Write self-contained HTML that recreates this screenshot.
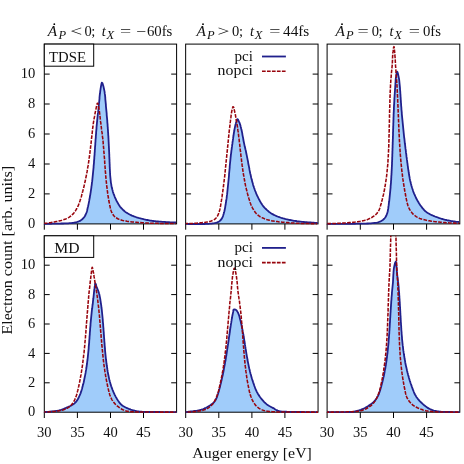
<!DOCTYPE html>
<html><head><meta charset="utf-8"><title>Auger spectra</title>
<style>
html,body{margin:0;padding:0;background:#fff;}
body{width:464px;height:464px;overflow:hidden;font-family:"Liberation Serif",serif;}
svg{display:block;will-change:transform;}
.t{font-family:"Liberation Serif",serif;font-size:14.5px;fill:#111;}
.i{font-family:"Liberation Serif",serif;font-size:14.5px;font-style:italic;fill:#111;}
.is{font-family:"Liberation Serif",serif;font-size:12.5px;font-style:italic;fill:#111;}
</style></head><body>
<svg width="464" height="464" viewBox="0 0 464 464">
<rect width="464" height="464" fill="#fff"/>
<defs>
<clipPath id="c00"><rect x="43.8" y="44.1" width="133.3" height="181.0"/></clipPath>
<clipPath id="c01"><rect x="185.15" y="44.1" width="133.4" height="181.0"/></clipPath>
<clipPath id="c02"><rect x="326.6" y="44.1" width="133.7" height="181.0"/></clipPath>
<clipPath id="c10"><rect x="43.8" y="235.8" width="133.3" height="177.59999999999997"/></clipPath>
<clipPath id="c11"><rect x="185.15" y="235.8" width="133.4" height="177.59999999999997"/></clipPath>
<clipPath id="c12"><rect x="326.6" y="235.8" width="133.7" height="177.59999999999997"/></clipPath>
</defs>
<path clip-path="url(#c00)" d="M44.3,223.8 L45.4,223.8 L46.4,223.8 L47.4,223.8 L48.3,223.8 L49.3,223.8 L50.3,223.8 L51.3,223.8 L52.3,223.7 L53.3,223.7 L54.3,223.7 L55.3,223.7 L56.3,223.7 L57.3,223.7 L58.3,223.6 L59.3,223.6 L60.3,223.6 L61.3,223.5 L62.3,223.5 L63.3,223.5 L64.3,223.4 L65.3,223.4 L66.3,223.4 L67.3,223.3 L68.3,223.3 L69.3,223.2 L70.3,223.2 L71.3,223.1 L72.3,223.0 L73.3,222.9 L74.3,222.7 L75.2,222.5 L76.2,222.3 L77.1,222.0 L78.1,221.7 L79.0,221.3 L79.9,220.9 L80.7,220.4 L81.5,219.8 L82.3,219.2 L83.0,218.5 L83.6,217.8 L84.3,217.0 L84.8,216.2 L85.3,215.3 L85.7,214.5 L86.1,213.5 L86.5,212.6 L86.8,211.7 L87.1,210.7 L87.3,209.7 L87.5,208.8 L87.7,207.8 L88.0,206.8 L88.2,205.8 L88.4,204.9 L88.6,203.9 L88.8,202.9 L89.0,201.9 L89.2,200.9 L89.3,200.0 L89.5,199.0 L89.7,198.0 L89.9,197.0 L90.0,196.0 L90.2,195.0 L90.4,194.1 L90.5,193.1 L90.7,192.1 L90.8,191.1 L91.0,190.1 L91.1,189.1 L91.3,188.1 L91.4,187.1 L91.5,186.1 L91.7,185.1 L91.8,184.2 L91.9,183.2 L92.0,182.2 L92.2,181.2 L92.3,180.2 L92.4,179.2 L92.5,178.2 L92.6,177.2 L92.7,176.2 L92.8,175.2 L92.9,174.2 L93.0,173.2 L93.1,172.2 L93.2,171.2 L93.3,170.2 L93.4,169.2 L93.5,168.2 L93.6,167.2 L93.6,166.3 L93.7,165.3 L93.8,164.3 L93.9,163.3 L94.0,162.3 L94.0,161.3 L94.1,160.3 L94.2,159.3 L94.3,158.3 L94.3,157.3 L94.4,156.3 L94.5,155.3 L94.6,154.3 L94.6,153.3 L94.7,152.3 L94.8,151.3 L94.8,150.3 L94.9,149.3 L95.0,148.3 L95.0,147.3 L95.1,146.3 L95.2,145.3 L95.3,144.3 L95.3,143.3 L95.4,142.3 L95.5,141.3 L95.5,140.3 L95.6,139.3 L95.7,138.3 L95.8,137.3 L95.8,136.3 L95.9,135.3 L96.0,134.3 L96.1,133.3 L96.1,132.3 L96.2,131.3 L96.3,130.4 L96.4,129.4 L96.5,128.4 L96.5,127.4 L96.6,126.4 L96.7,125.4 L96.8,124.4 L96.9,123.4 L97.0,122.4 L97.1,121.4 L97.2,120.4 L97.3,119.4 L97.4,118.4 L97.5,117.4 L97.6,116.4 L97.7,115.4 L97.8,114.4 L97.9,113.4 L98.1,112.4 L98.2,111.4 L98.3,110.5 L98.4,109.5 L98.5,108.5 L98.6,107.5 L98.7,106.5 L98.8,105.5 L98.9,104.5 L99.0,103.5 L99.1,102.5 L99.2,101.5 L99.3,100.5 L99.4,99.5 L99.5,98.5 L99.5,97.5 L99.6,96.5 L99.7,95.5 L99.8,94.5 L100.0,93.5 L100.1,92.5 L100.2,91.6 L100.3,90.6 L100.5,89.6 L100.6,88.6 L100.8,87.6 L100.9,86.7 L101.1,85.8 L101.3,84.8 L101.5,83.8 L101.8,82.7 L102.5,83.3 L102.8,84.3 L103.1,85.3 L103.3,86.1 L103.6,87.1 L103.8,88.0 L104.0,89.0 L104.2,89.9 L104.4,90.9 L104.6,91.9 L104.7,92.9 L104.8,93.9 L105.0,94.9 L105.1,95.9 L105.2,96.9 L105.3,97.9 L105.3,98.9 L105.4,99.8 L105.5,100.8 L105.6,101.8 L105.7,102.8 L105.8,103.8 L105.9,104.8 L105.9,105.8 L106.0,106.8 L106.1,107.8 L106.2,108.8 L106.3,109.8 L106.4,110.8 L106.5,111.8 L106.6,112.8 L106.7,113.8 L106.7,114.8 L106.8,115.8 L106.9,116.8 L107.0,117.8 L107.1,118.8 L107.2,119.8 L107.3,120.8 L107.3,121.8 L107.4,122.8 L107.5,123.8 L107.6,124.8 L107.6,125.8 L107.7,126.8 L107.8,127.7 L107.8,128.7 L107.9,129.7 L108.0,130.7 L108.0,131.7 L108.1,132.7 L108.2,133.7 L108.2,134.7 L108.3,135.7 L108.4,136.7 L108.4,137.7 L108.5,138.7 L108.5,139.7 L108.6,140.7 L108.6,141.7 L108.7,142.7 L108.7,143.7 L108.8,144.7 L108.8,145.7 L108.9,146.7 L108.9,147.7 L109.0,148.7 L109.0,149.7 L109.1,150.7 L109.1,151.7 L109.2,152.7 L109.2,153.7 L109.3,154.7 L109.3,155.7 L109.3,156.7 L109.4,157.7 L109.4,158.7 L109.5,159.7 L109.5,160.7 L109.5,161.7 L109.6,162.7 L109.6,163.7 L109.7,164.7 L109.7,165.7 L109.7,166.7 L109.8,167.7 L109.8,168.7 L109.9,169.7 L109.9,170.7 L110.0,171.7 L110.0,172.7 L110.1,173.7 L110.1,174.7 L110.2,175.7 L110.3,176.7 L110.4,177.7 L110.5,178.7 L110.6,179.7 L110.7,180.7 L110.8,181.7 L110.9,182.6 L111.1,183.6 L111.3,184.6 L111.4,185.6 L111.6,186.6 L111.8,187.6 L112.1,188.5 L112.3,189.5 L112.6,190.5 L112.8,191.4 L113.1,192.4 L113.4,193.3 L113.8,194.3 L114.1,195.2 L114.5,196.1 L114.8,197.1 L115.2,198.0 L115.7,198.9 L116.1,199.8 L116.5,200.7 L117.0,201.6 L117.5,202.5 L118.0,203.3 L118.5,204.2 L119.0,205.0 L119.6,205.9 L120.1,206.7 L120.7,207.5 L121.4,208.2 L122.1,208.9 L122.8,209.6 L123.5,210.3 L124.3,211.0 L125.0,211.6 L125.8,212.2 L126.7,212.7 L127.5,213.3 L128.4,213.8 L129.2,214.3 L130.1,214.7 L131.0,215.1 L131.9,215.6 L132.8,215.9 L133.8,216.3 L134.7,216.7 L135.7,217.0 L136.6,217.3 L137.6,217.6 L138.5,217.9 L139.5,218.2 L140.4,218.4 L141.4,218.7 L142.4,218.9 L143.4,219.1 L144.3,219.4 L145.3,219.6 L146.3,219.8 L147.3,220.0 L148.2,220.2 L149.2,220.4 L150.2,220.6 L151.2,220.7 L152.2,220.9 L153.2,221.0 L154.2,221.1 L155.2,221.2 L156.1,221.3 L157.1,221.4 L158.1,221.5 L159.1,221.6 L160.1,221.7 L161.1,221.7 L162.1,221.8 L163.1,221.9 L164.1,221.9 L165.1,222.0 L166.1,222.1 L167.1,222.1 L168.1,222.2 L169.1,222.2 L170.1,222.3 L171.1,222.3 L172.1,222.3 L173.1,222.4 L174.0,222.4 L175.0,222.4 L176.1,222.4 L176.6,223.9 L44.3,223.9 Z" fill="#a0ccfa"/>
<path clip-path="url(#c01)" d="M185.7,223.9 L186.7,223.9 L187.7,223.9 L188.7,224.0 L189.7,224.0 L190.7,224.0 L191.7,224.0 L192.7,224.0 L193.6,224.0 L194.6,224.0 L195.6,224.0 L196.6,224.0 L197.6,224.0 L198.6,224.0 L199.6,224.0 L200.6,224.0 L201.6,224.0 L202.6,224.0 L203.6,224.0 L204.6,224.0 L205.6,223.9 L206.6,223.9 L207.6,223.8 L208.6,223.8 L209.6,223.7 L210.6,223.6 L211.6,223.6 L212.6,223.4 L213.6,223.3 L214.6,223.1 L215.6,222.9 L216.5,222.6 L217.4,222.3 L218.3,221.9 L219.1,221.4 L219.9,220.8 L220.6,220.2 L221.2,219.4 L221.8,218.6 L222.2,217.8 L222.7,216.9 L223.0,216.0 L223.3,215.0 L223.6,214.1 L223.9,213.1 L224.1,212.2 L224.4,211.2 L224.6,210.2 L224.8,209.2 L225.0,208.2 L225.2,207.3 L225.3,206.3 L225.5,205.3 L225.7,204.3 L225.8,203.3 L226.0,202.3 L226.1,201.3 L226.3,200.3 L226.4,199.4 L226.6,198.4 L226.7,197.4 L226.8,196.4 L226.9,195.4 L227.1,194.4 L227.2,193.4 L227.3,192.4 L227.4,191.4 L227.5,190.4 L227.6,189.4 L227.7,188.4 L227.8,187.4 L227.9,186.5 L228.0,185.5 L228.1,184.5 L228.2,183.5 L228.3,182.5 L228.4,181.5 L228.5,180.5 L228.6,179.5 L228.7,178.5 L228.8,177.5 L228.9,176.5 L229.0,175.5 L229.0,174.5 L229.1,173.5 L229.2,172.5 L229.3,171.5 L229.4,170.5 L229.5,169.5 L229.6,168.5 L229.7,167.5 L229.7,166.5 L229.8,165.5 L229.9,164.5 L230.0,163.5 L230.1,162.5 L230.2,161.6 L230.3,160.6 L230.4,159.6 L230.5,158.6 L230.6,157.6 L230.7,156.6 L230.8,155.6 L230.9,154.6 L231.1,153.6 L231.2,152.6 L231.3,151.6 L231.4,150.6 L231.6,149.6 L231.7,148.6 L231.8,147.6 L232.0,146.7 L232.1,145.7 L232.2,144.7 L232.4,143.7 L232.5,142.7 L232.6,141.7 L232.8,140.7 L232.9,139.7 L233.1,138.7 L233.2,137.7 L233.3,136.8 L233.5,135.8 L233.6,134.8 L233.8,133.8 L233.9,132.8 L234.1,131.8 L234.3,130.8 L234.4,129.8 L234.6,128.9 L234.8,127.9 L235.0,126.9 L235.2,125.9 L235.4,125.0 L235.7,124.0 L235.9,123.1 L236.2,122.2 L236.5,121.3 L236.8,120.3 L237.2,119.2 L237.9,119.4 L238.4,120.4 L238.8,121.3 L239.2,122.2 L239.6,123.0 L239.9,123.9 L240.2,124.9 L240.5,125.8 L240.7,126.8 L241.0,127.7 L241.2,128.7 L241.5,129.7 L241.7,130.7 L241.9,131.6 L242.1,132.6 L242.3,133.6 L242.4,134.6 L242.6,135.6 L242.8,136.6 L243.0,137.5 L243.2,138.5 L243.3,139.5 L243.5,140.5 L243.7,141.5 L243.9,142.5 L244.1,143.4 L244.3,144.4 L244.5,145.4 L244.7,146.4 L245.0,147.3 L245.2,148.3 L245.4,149.3 L245.7,150.3 L245.9,151.2 L246.1,152.2 L246.3,153.2 L246.5,154.2 L246.7,155.1 L246.9,156.1 L247.1,157.1 L247.3,158.1 L247.5,159.1 L247.7,160.1 L247.9,161.0 L248.1,162.0 L248.2,163.0 L248.4,164.0 L248.6,165.0 L248.8,165.9 L249.0,166.9 L249.2,167.9 L249.4,168.9 L249.5,169.9 L249.7,170.9 L249.9,171.8 L250.1,172.8 L250.3,173.8 L250.6,174.8 L250.8,175.7 L251.0,176.7 L251.2,177.7 L251.5,178.7 L251.7,179.6 L252.0,180.6 L252.2,181.6 L252.5,182.5 L252.8,183.5 L253.0,184.5 L253.3,185.4 L253.6,186.4 L253.9,187.3 L254.3,188.3 L254.6,189.2 L254.9,190.1 L255.3,191.1 L255.7,192.0 L256.0,192.9 L256.4,193.9 L256.8,194.8 L257.2,195.7 L257.7,196.6 L258.1,197.5 L258.5,198.4 L259.0,199.3 L259.5,200.2 L259.9,201.0 L260.4,201.9 L260.9,202.8 L261.5,203.6 L262.0,204.4 L262.6,205.3 L263.2,206.1 L263.8,206.8 L264.5,207.6 L265.2,208.3 L265.9,209.0 L266.6,209.7 L267.3,210.4 L268.1,211.0 L268.8,211.7 L269.6,212.3 L270.4,212.8 L271.3,213.4 L272.1,213.9 L273.0,214.4 L273.9,214.9 L274.8,215.3 L275.7,215.7 L276.6,216.1 L277.5,216.5 L278.5,216.8 L279.4,217.1 L280.4,217.5 L281.3,217.8 L282.3,218.1 L283.2,218.4 L284.2,218.6 L285.1,218.9 L286.1,219.2 L287.1,219.4 L288.1,219.6 L289.0,219.8 L290.0,220.0 L291.0,220.2 L292.0,220.4 L293.0,220.6 L293.9,220.8 L294.9,220.9 L295.9,221.0 L296.9,221.2 L297.9,221.3 L298.9,221.4 L299.9,221.6 L300.9,221.7 L301.9,221.8 L302.9,221.9 L303.9,222.0 L304.9,222.1 L305.9,222.2 L306.9,222.2 L307.8,222.3 L308.8,222.4 L309.8,222.5 L310.8,222.5 L311.8,222.6 L312.8,222.7 L313.8,222.7 L314.8,222.8 L315.7,222.8 L316.8,222.9 L317.8,222.9 L318.05,223.9 L185.65,223.9 Z" fill="#a0ccfa"/>
<path clip-path="url(#c02)" d="M327.1,223.9 L328.2,223.9 L329.2,223.9 L330.2,223.9 L331.1,223.9 L332.1,223.9 L333.1,223.9 L334.1,223.9 L335.1,223.9 L336.1,223.9 L337.1,223.9 L338.1,223.9 L339.1,223.9 L340.1,223.9 L341.1,223.9 L342.1,223.9 L343.1,223.9 L344.1,223.8 L345.1,223.8 L346.1,223.8 L347.1,223.8 L348.1,223.8 L349.1,223.8 L350.1,223.8 L351.1,223.8 L352.1,223.8 L353.1,223.8 L354.1,223.8 L355.1,223.8 L356.1,223.7 L357.1,223.7 L358.1,223.7 L359.1,223.7 L360.1,223.7 L361.1,223.7 L362.1,223.7 L363.1,223.7 L364.1,223.6 L365.1,223.6 L366.1,223.6 L367.1,223.5 L368.1,223.5 L369.1,223.4 L370.1,223.4 L371.1,223.3 L372.1,223.2 L373.1,223.1 L374.1,223.0 L375.1,222.9 L376.0,222.8 L377.0,222.6 L378.0,222.3 L378.9,222.0 L379.9,221.7 L380.8,221.3 L381.6,220.8 L382.4,220.3 L383.2,219.7 L383.9,219.0 L384.6,218.3 L385.2,217.5 L385.7,216.7 L386.2,215.8 L386.6,214.9 L386.9,214.0 L387.3,213.1 L387.5,212.1 L387.8,211.2 L387.9,210.2 L388.1,209.2 L388.3,208.2 L388.4,207.2 L388.5,206.2 L388.7,205.2 L388.8,204.2 L388.9,203.2 L389.0,202.3 L389.2,201.3 L389.3,200.3 L389.4,199.3 L389.5,198.3 L389.6,197.3 L389.7,196.3 L389.8,195.3 L389.9,194.3 L390.0,193.3 L390.1,192.3 L390.2,191.3 L390.3,190.3 L390.4,189.3 L390.5,188.3 L390.6,187.3 L390.6,186.3 L390.7,185.3 L390.8,184.3 L390.9,183.3 L391.0,182.4 L391.0,181.4 L391.1,180.4 L391.2,179.4 L391.2,178.4 L391.3,177.4 L391.3,176.4 L391.4,175.4 L391.5,174.4 L391.5,173.4 L391.6,172.4 L391.6,171.4 L391.7,170.4 L391.7,169.4 L391.8,168.4 L391.8,167.4 L391.9,166.4 L391.9,165.4 L392.0,164.4 L392.0,163.4 L392.0,162.4 L392.1,161.4 L392.1,160.4 L392.2,159.4 L392.2,158.4 L392.2,157.4 L392.3,156.4 L392.3,155.4 L392.3,154.4 L392.4,153.4 L392.4,152.4 L392.4,151.4 L392.5,150.4 L392.5,149.4 L392.5,148.4 L392.6,147.4 L392.6,146.4 L392.6,145.4 L392.7,144.4 L392.7,143.4 L392.7,142.4 L392.8,141.4 L392.8,140.4 L392.8,139.4 L392.9,138.4 L392.9,137.4 L392.9,136.4 L393.0,135.4 L393.0,134.4 L393.0,133.4 L393.0,132.4 L393.1,131.4 L393.1,130.4 L393.1,129.4 L393.2,128.4 L393.2,127.4 L393.2,126.4 L393.3,125.4 L393.3,124.4 L393.3,123.4 L393.4,122.4 L393.4,121.4 L393.4,120.4 L393.5,119.4 L393.5,118.4 L393.5,117.4 L393.6,116.4 L393.6,115.4 L393.6,114.4 L393.7,113.4 L393.7,112.4 L393.8,111.4 L393.8,110.4 L393.9,109.4 L393.9,108.4 L393.9,107.4 L394.0,106.4 L394.0,105.4 L394.1,104.4 L394.2,103.4 L394.2,102.4 L394.3,101.4 L394.3,100.4 L394.4,99.4 L394.4,98.4 L394.5,97.4 L394.6,96.4 L394.6,95.4 L394.7,94.4 L394.8,93.4 L394.8,92.4 L394.9,91.4 L395.0,90.4 L395.0,89.4 L395.1,88.5 L395.2,87.5 L395.2,86.5 L395.3,85.5 L395.4,84.5 L395.4,83.5 L395.5,82.5 L395.6,81.5 L395.6,80.5 L395.7,79.5 L395.8,78.5 L396.0,77.5 L396.1,76.5 L396.2,75.6 L396.4,74.7 L396.5,73.7 L396.7,72.6 L397.0,71.6 L397.6,72.4 L397.9,73.4 L398.1,74.3 L398.3,75.2 L398.5,76.1 L398.7,77.1 L398.9,78.1 L399.1,79.1 L399.2,80.0 L399.3,81.0 L399.4,82.0 L399.5,83.0 L399.6,84.0 L399.7,85.0 L399.8,86.0 L399.9,87.0 L400.0,88.0 L400.0,89.0 L400.1,90.0 L400.2,91.0 L400.3,92.0 L400.3,93.0 L400.4,94.0 L400.5,95.0 L400.5,96.0 L400.6,97.0 L400.7,98.0 L400.7,99.0 L400.8,100.0 L400.9,101.0 L400.9,102.0 L401.0,103.0 L401.1,104.0 L401.1,105.0 L401.2,106.0 L401.3,107.0 L401.4,108.0 L401.4,109.0 L401.5,110.0 L401.6,110.9 L401.7,111.9 L401.8,112.9 L401.8,113.9 L401.9,114.9 L402.0,115.9 L402.1,116.9 L402.2,117.9 L402.3,118.9 L402.4,119.9 L402.5,120.9 L402.6,121.9 L402.7,122.9 L402.8,123.9 L402.9,124.9 L403.0,125.9 L403.1,126.9 L403.2,127.9 L403.3,128.9 L403.4,129.9 L403.5,130.9 L403.6,131.9 L403.7,132.8 L403.8,133.8 L403.9,134.8 L404.0,135.8 L404.1,136.8 L404.2,137.8 L404.4,138.8 L404.5,139.8 L404.6,140.8 L404.7,141.8 L404.8,142.8 L404.9,143.8 L405.1,144.8 L405.2,145.8 L405.3,146.8 L405.4,147.7 L405.5,148.7 L405.7,149.7 L405.8,150.7 L405.9,151.7 L406.0,152.7 L406.2,153.7 L406.3,154.7 L406.4,155.7 L406.5,156.7 L406.7,157.7 L406.8,158.7 L406.9,159.7 L407.1,160.6 L407.2,161.6 L407.3,162.6 L407.5,163.6 L407.6,164.6 L407.7,165.6 L407.9,166.6 L408.0,167.6 L408.1,168.6 L408.3,169.6 L408.4,170.5 L408.6,171.5 L408.7,172.5 L408.9,173.5 L409.0,174.5 L409.2,175.5 L409.4,176.5 L409.6,177.5 L409.7,178.4 L409.9,179.4 L410.1,180.4 L410.4,181.4 L410.6,182.3 L410.8,183.3 L411.1,184.3 L411.3,185.3 L411.6,186.2 L411.9,187.2 L412.2,188.1 L412.5,189.1 L412.8,190.0 L413.1,191.0 L413.4,191.9 L413.8,192.8 L414.2,193.8 L414.6,194.7 L415.0,195.6 L415.4,196.5 L415.8,197.4 L416.2,198.3 L416.7,199.2 L417.2,200.1 L417.6,201.0 L418.2,201.8 L418.7,202.7 L419.2,203.5 L419.8,204.4 L420.3,205.2 L420.9,206.0 L421.5,206.8 L422.1,207.6 L422.7,208.4 L423.4,209.1 L424.0,209.9 L424.7,210.6 L425.4,211.3 L426.2,211.9 L427.0,212.5 L427.8,213.0 L428.7,213.5 L429.6,214.0 L430.4,214.5 L431.3,214.9 L432.3,215.3 L433.2,215.7 L434.1,216.1 L435.0,216.5 L436.0,216.8 L436.9,217.2 L437.8,217.5 L438.8,217.9 L439.7,218.2 L440.7,218.5 L441.6,218.8 L442.6,219.0 L443.6,219.3 L444.5,219.6 L445.5,219.8 L446.5,220.0 L447.4,220.3 L448.4,220.5 L449.4,220.7 L450.4,220.9 L451.4,221.1 L452.3,221.2 L453.3,221.4 L454.3,221.5 L455.3,221.6 L456.3,221.8 L457.2,221.8 L458.2,221.9 L459.2,222.0 L459.8,223.9 L327.1,223.9 Z" fill="#a0ccfa"/>
<path clip-path="url(#c10)" d="M44.3,412.1 L45.4,412.0 L46.4,411.9 L47.3,411.8 L48.3,411.8 L49.3,411.7 L50.3,411.6 L51.3,411.5 L52.3,411.4 L53.3,411.3 L54.3,411.2 L55.2,411.1 L56.2,410.9 L57.2,410.8 L58.2,410.6 L59.2,410.4 L60.1,410.1 L61.1,409.8 L62.0,409.5 L63.0,409.2 L63.9,408.8 L64.8,408.4 L65.7,408.0 L66.6,407.6 L67.6,407.2 L68.5,406.8 L69.4,406.4 L70.3,406.0 L71.2,405.5 L72.0,405.0 L72.9,404.5 L73.7,404.0 L74.5,403.4 L75.2,402.7 L75.9,402.0 L76.5,401.2 L77.1,400.4 L77.6,399.6 L78.1,398.7 L78.6,397.8 L79.0,396.9 L79.4,396.0 L79.8,395.1 L80.2,394.2 L80.6,393.3 L80.9,392.3 L81.2,391.4 L81.5,390.4 L81.8,389.5 L82.1,388.5 L82.3,387.5 L82.6,386.6 L82.8,385.6 L83.1,384.6 L83.3,383.7 L83.6,382.7 L83.8,381.7 L84.0,380.7 L84.2,379.8 L84.4,378.8 L84.6,377.8 L84.8,376.8 L85.0,375.9 L85.2,374.9 L85.4,373.9 L85.6,372.9 L85.7,371.9 L85.9,370.9 L86.1,369.9 L86.2,369.0 L86.4,368.0 L86.5,367.0 L86.7,366.0 L86.8,365.0 L87.0,364.0 L87.1,363.0 L87.2,362.0 L87.3,361.0 L87.5,360.0 L87.6,359.0 L87.7,358.1 L87.8,357.1 L87.9,356.1 L88.0,355.1 L88.1,354.1 L88.2,353.1 L88.3,352.1 L88.4,351.1 L88.5,350.1 L88.6,349.1 L88.7,348.1 L88.7,347.1 L88.8,346.1 L88.9,345.1 L89.0,344.1 L89.1,343.1 L89.2,342.1 L89.2,341.1 L89.3,340.1 L89.4,339.1 L89.5,338.1 L89.5,337.1 L89.6,336.1 L89.7,335.1 L89.8,334.1 L89.8,333.2 L89.9,332.2 L90.0,331.2 L90.1,330.2 L90.1,329.2 L90.2,328.2 L90.3,327.2 L90.4,326.2 L90.5,325.2 L90.5,324.2 L90.6,323.2 L90.7,322.2 L90.8,321.2 L90.9,320.2 L91.0,319.2 L91.1,318.2 L91.2,317.2 L91.3,316.2 L91.4,315.2 L91.5,314.2 L91.6,313.2 L91.7,312.2 L91.8,311.2 L91.9,310.2 L92.0,309.3 L92.2,308.3 L92.3,307.3 L92.4,306.3 L92.5,305.3 L92.7,304.3 L92.8,303.3 L92.9,302.3 L93.0,301.3 L93.1,300.3 L93.2,299.3 L93.4,298.3 L93.5,297.3 L93.6,296.3 L93.7,295.4 L93.8,294.4 L93.9,293.4 L94.0,292.4 L94.1,291.4 L94.2,290.4 L94.3,289.4 L94.5,288.4 L94.6,287.5 L94.7,286.6 L94.9,285.7 L95.0,284.6 L95.2,283.5 L95.8,283.9 L96.1,285.0 L96.3,286.0 L96.6,286.9 L96.9,287.7 L97.3,288.6 L97.7,289.5 L98.1,290.5 L98.4,291.4 L98.7,292.3 L99.0,293.3 L99.3,294.2 L99.5,295.2 L99.7,296.2 L99.9,297.1 L100.1,298.1 L100.3,299.1 L100.4,300.1 L100.6,301.1 L100.7,302.1 L100.9,303.1 L101.0,304.1 L101.2,305.1 L101.3,306.0 L101.4,307.0 L101.5,308.0 L101.7,309.0 L101.8,310.0 L101.9,311.0 L102.0,312.0 L102.1,313.0 L102.2,314.0 L102.3,315.0 L102.4,316.0 L102.5,317.0 L102.6,318.0 L102.7,319.0 L102.8,320.0 L102.8,321.0 L102.9,322.0 L103.0,323.0 L103.1,323.9 L103.2,324.9 L103.2,325.9 L103.3,326.9 L103.4,327.9 L103.5,328.9 L103.5,329.9 L103.6,330.9 L103.7,331.9 L103.8,332.9 L103.8,333.9 L103.9,334.9 L104.0,335.9 L104.0,336.9 L104.1,337.9 L104.2,338.9 L104.3,339.9 L104.3,340.9 L104.4,341.9 L104.5,342.9 L104.6,343.9 L104.6,344.9 L104.7,345.9 L104.8,346.9 L104.9,347.9 L105.0,348.9 L105.0,349.9 L105.1,350.9 L105.2,351.9 L105.3,352.9 L105.4,353.9 L105.5,354.9 L105.6,355.8 L105.7,356.8 L105.8,357.8 L105.9,358.8 L106.0,359.8 L106.2,360.8 L106.3,361.8 L106.4,362.8 L106.5,363.8 L106.7,364.8 L106.8,365.8 L107.0,366.8 L107.1,367.8 L107.3,368.7 L107.4,369.7 L107.6,370.7 L107.7,371.7 L107.9,372.7 L108.1,373.7 L108.3,374.7 L108.5,375.6 L108.7,376.6 L108.9,377.6 L109.1,378.6 L109.3,379.5 L109.6,380.5 L109.8,381.5 L110.1,382.4 L110.4,383.4 L110.6,384.4 L110.9,385.3 L111.2,386.3 L111.6,387.2 L111.9,388.2 L112.3,389.1 L112.6,390.0 L113.0,390.9 L113.4,391.9 L113.8,392.8 L114.2,393.7 L114.6,394.6 L115.1,395.5 L115.5,396.4 L116.0,397.3 L116.5,398.1 L117.0,399.0 L117.5,399.8 L118.1,400.7 L118.7,401.5 L119.2,402.3 L119.9,403.1 L120.5,403.8 L121.2,404.5 L121.9,405.2 L122.7,405.8 L123.5,406.3 L124.4,406.8 L125.3,407.3 L126.2,407.7 L127.1,408.1 L128.0,408.5 L128.9,408.9 L129.8,409.2 L130.8,409.6 L131.7,409.9 L132.7,410.2 L133.6,410.5 L134.6,410.7 L135.6,411.0 L136.5,411.1 L137.5,411.3 L138.5,411.4 L139.5,411.6 L140.5,411.7 L141.5,411.7 L142.5,411.8 L143.5,411.8 L144.5,411.9 L145.5,411.9 L146.5,411.9 L147.5,411.9 L148.5,411.9 L149.5,412.0 L150.5,412.0 L151.5,412.0 L152.5,412.0 L153.5,412.0 L154.5,412.0 L155.5,412.0 L156.5,412.0 L157.5,412.0 L158.5,412.0 L159.5,412.0 L160.5,412.1 L161.5,412.1 L162.5,412.1 L163.5,412.1 L164.5,412.1 L165.5,412.1 L166.5,412.1 L167.5,412.1 L168.5,412.1 L169.5,412.1 L170.5,412.1 L171.5,412.1 L172.5,412.1 L173.4,412.1 L174.4,412.1 L175.4,412.1 L176.5,412.1 L176.6,412.2 L44.3,412.2 Z" fill="#a0ccfa"/>
<path clip-path="url(#c11)" d="M185.7,412.1 L186.7,412.0 L187.7,411.8 L188.7,411.7 L189.7,411.6 L190.6,411.5 L191.6,411.4 L192.6,411.3 L193.6,411.1 L194.6,411.0 L195.6,410.9 L196.6,410.8 L197.5,410.6 L198.5,410.4 L199.5,410.2 L200.5,409.9 L201.4,409.7 L202.4,409.3 L203.3,409.0 L204.2,408.6 L205.1,408.1 L206.0,407.7 L206.9,407.2 L207.7,406.7 L208.6,406.2 L209.4,405.7 L210.3,405.2 L211.1,404.6 L211.9,404.1 L212.7,403.5 L213.4,402.8 L214.1,402.1 L214.7,401.3 L215.3,400.5 L215.7,399.7 L216.2,398.8 L216.6,397.9 L217.0,396.9 L217.3,396.0 L217.6,395.1 L217.9,394.1 L218.2,393.2 L218.5,392.2 L218.8,391.2 L219.0,390.3 L219.3,389.3 L219.6,388.3 L219.8,387.4 L220.1,386.4 L220.3,385.4 L220.5,384.5 L220.8,383.5 L221.0,382.5 L221.2,381.5 L221.5,380.6 L221.7,379.6 L221.9,378.6 L222.1,377.6 L222.3,376.7 L222.6,375.7 L222.8,374.7 L223.0,373.7 L223.2,372.8 L223.4,371.8 L223.6,370.8 L223.8,369.8 L223.9,368.8 L224.1,367.8 L224.3,366.9 L224.5,365.9 L224.7,364.9 L224.9,363.9 L225.0,362.9 L225.2,361.9 L225.4,361.0 L225.6,360.0 L225.7,359.0 L225.9,358.0 L226.0,357.0 L226.2,356.0 L226.4,355.0 L226.5,354.1 L226.7,353.1 L226.8,352.1 L227.0,351.1 L227.1,350.1 L227.3,349.1 L227.4,348.1 L227.6,347.1 L227.7,346.1 L227.9,345.2 L228.0,344.2 L228.2,343.2 L228.3,342.2 L228.5,341.2 L228.6,340.2 L228.8,339.2 L228.9,338.2 L229.0,337.2 L229.2,336.3 L229.3,335.3 L229.5,334.3 L229.6,333.3 L229.8,332.3 L229.9,331.3 L230.0,330.3 L230.2,329.3 L230.3,328.3 L230.5,327.3 L230.6,326.4 L230.8,325.4 L230.9,324.4 L231.1,323.4 L231.3,322.4 L231.4,321.4 L231.6,320.4 L231.7,319.4 L231.9,318.5 L232.1,317.5 L232.2,316.5 L232.4,315.5 L232.6,314.5 L232.8,313.6 L233.0,312.6 L233.2,311.7 L233.3,310.7 L233.5,309.6 L234.4,309.4 L235.4,309.6 L236.2,310.0 L236.8,310.7 L237.3,311.4 L237.7,312.2 L238.2,313.0 L238.5,313.9 L238.9,314.9 L239.2,315.8 L239.5,316.8 L239.7,317.7 L240.0,318.7 L240.2,319.7 L240.5,320.6 L240.7,321.6 L240.9,322.6 L241.1,323.6 L241.4,324.5 L241.6,325.5 L241.8,326.5 L242.0,327.5 L242.2,328.5 L242.4,329.4 L242.6,330.4 L242.7,331.4 L242.9,332.4 L243.1,333.4 L243.3,334.3 L243.5,335.3 L243.6,336.3 L243.8,337.3 L244.0,338.3 L244.1,339.3 L244.3,340.3 L244.4,341.3 L244.6,342.2 L244.8,343.2 L244.9,344.2 L245.1,345.2 L245.2,346.2 L245.4,347.2 L245.5,348.2 L245.7,349.2 L245.9,350.1 L246.0,351.1 L246.2,352.1 L246.3,353.1 L246.5,354.1 L246.7,355.1 L246.8,356.1 L247.0,357.0 L247.2,358.0 L247.4,359.0 L247.5,360.0 L247.7,361.0 L247.9,362.0 L248.1,362.9 L248.3,363.9 L248.5,364.9 L248.7,365.9 L248.9,366.9 L249.1,367.8 L249.3,368.8 L249.6,369.8 L249.8,370.8 L250.0,371.7 L250.3,372.7 L250.5,373.7 L250.8,374.6 L251.1,375.6 L251.3,376.6 L251.6,377.5 L251.9,378.5 L252.2,379.4 L252.5,380.4 L252.8,381.3 L253.1,382.3 L253.4,383.2 L253.8,384.2 L254.1,385.1 L254.4,386.1 L254.8,387.0 L255.1,387.9 L255.5,388.9 L255.9,389.8 L256.3,390.7 L256.7,391.6 L257.2,392.5 L257.7,393.4 L258.2,394.2 L258.7,395.1 L259.3,395.9 L259.8,396.7 L260.4,397.5 L261.0,398.3 L261.7,399.1 L262.3,399.8 L263.0,400.6 L263.6,401.3 L264.3,402.1 L265.0,402.8 L265.7,403.4 L266.5,404.1 L267.3,404.7 L268.1,405.3 L268.9,405.8 L269.8,406.3 L270.7,406.7 L271.5,407.2 L272.4,407.6 L273.3,408.1 L274.1,408.6 L275.0,409.2 L275.8,409.7 L276.7,410.1 L277.6,410.6 L278.5,410.9 L279.4,411.2 L280.4,411.3 L281.3,411.5 L282.3,411.6 L283.3,411.6 L284.3,411.7 L285.3,411.7 L286.3,411.7 L287.3,411.8 L288.3,411.8 L289.3,411.8 L290.3,411.8 L291.3,411.9 L292.3,411.9 L293.3,411.9 L294.3,411.9 L295.3,411.9 L296.3,412.0 L297.3,412.0 L298.3,412.0 L299.3,412.0 L300.3,412.0 L301.3,412.0 L302.3,412.0 L303.3,412.0 L304.3,412.1 L305.3,412.1 L306.3,412.1 L307.3,412.1 L308.3,412.1 L309.3,412.1 L310.3,412.1 L311.3,412.1 L312.3,412.1 L313.3,412.1 L314.3,412.1 L315.2,412.1 L316.2,412.1 L317.3,412.1 L318.05,412.2 L185.65,412.2 Z" fill="#a0ccfa"/>
<path clip-path="url(#c12)" d="M327.1,412.1 L328.2,412.1 L329.2,412.1 L330.2,412.1 L331.1,412.1 L332.1,412.1 L333.1,412.1 L334.1,412.1 L335.1,412.1 L336.1,412.1 L337.1,412.1 L338.1,412.1 L339.1,412.1 L340.1,412.1 L341.1,412.1 L342.1,412.1 L343.1,412.1 L344.1,412.1 L345.1,412.1 L346.1,412.1 L347.1,412.1 L348.1,412.1 L349.1,412.0 L350.1,412.0 L351.1,412.0 L352.1,411.9 L353.1,411.8 L354.0,411.7 L355.0,411.5 L356.0,411.2 L357.0,411.0 L357.9,410.7 L358.9,410.4 L359.8,410.1 L360.8,409.8 L361.7,409.4 L362.6,409.0 L363.5,408.6 L364.4,408.2 L365.3,407.7 L366.1,407.2 L367.0,406.7 L367.9,406.2 L368.7,405.6 L369.6,405.1 L370.4,404.6 L371.2,404.0 L372.0,403.4 L372.8,402.8 L373.5,402.1 L374.2,401.4 L374.9,400.7 L375.5,399.9 L376.1,399.1 L376.6,398.3 L377.1,397.4 L377.6,396.5 L378.1,395.7 L378.5,394.8 L378.9,393.8 L379.2,392.9 L379.6,392.0 L379.9,391.0 L380.2,390.1 L380.5,389.1 L380.7,388.2 L381.0,387.2 L381.3,386.2 L381.5,385.3 L381.8,384.3 L382.0,383.3 L382.3,382.4 L382.5,381.4 L382.8,380.4 L383.0,379.4 L383.2,378.5 L383.4,377.5 L383.7,376.5 L383.9,375.5 L384.1,374.6 L384.3,373.6 L384.5,372.6 L384.6,371.6 L384.8,370.6 L385.0,369.6 L385.2,368.7 L385.4,367.7 L385.5,366.7 L385.7,365.7 L385.9,364.7 L386.0,363.7 L386.2,362.7 L386.3,361.8 L386.5,360.8 L386.6,359.8 L386.7,358.8 L386.9,357.8 L387.0,356.8 L387.1,355.8 L387.2,354.8 L387.4,353.8 L387.5,352.8 L387.6,351.8 L387.7,350.8 L387.8,349.9 L387.9,348.9 L388.0,347.9 L388.1,346.9 L388.2,345.9 L388.3,344.9 L388.4,343.9 L388.5,342.9 L388.6,341.9 L388.6,340.9 L388.7,339.9 L388.8,338.9 L388.9,337.9 L389.0,336.9 L389.0,335.9 L389.1,334.9 L389.2,333.9 L389.3,332.9 L389.3,331.9 L389.4,330.9 L389.5,329.9 L389.5,328.9 L389.6,327.9 L389.7,326.9 L389.7,325.9 L389.8,324.9 L389.8,323.9 L389.9,322.9 L390.0,321.9 L390.0,320.9 L390.1,319.9 L390.1,318.9 L390.2,317.9 L390.3,316.9 L390.3,315.9 L390.4,314.9 L390.4,314.0 L390.5,313.0 L390.6,312.0 L390.6,311.0 L390.7,310.0 L390.8,309.0 L390.8,308.0 L390.9,307.0 L391.0,306.0 L391.0,305.0 L391.1,304.0 L391.2,303.0 L391.2,302.0 L391.3,301.0 L391.4,300.0 L391.5,299.0 L391.5,298.0 L391.6,297.0 L391.7,296.0 L391.8,295.0 L391.9,294.0 L391.9,293.0 L392.0,292.0 L392.1,291.0 L392.2,290.0 L392.3,289.0 L392.4,288.0 L392.5,287.0 L392.6,286.0 L392.7,285.0 L392.8,284.0 L392.9,283.1 L393.0,282.1 L393.0,281.1 L393.1,280.1 L393.1,279.1 L393.2,278.1 L393.2,277.1 L393.3,276.1 L393.3,275.1 L393.4,274.1 L393.5,273.1 L393.5,272.1 L393.6,271.1 L393.7,270.1 L393.8,269.1 L393.9,268.1 L394.1,267.1 L394.3,266.2 L394.5,265.3 L394.7,264.4 L394.9,263.5 L395.3,262.4 L395.9,261.7 L396.1,262.8 L396.2,263.9 L396.3,264.8 L396.4,265.8 L396.5,266.7 L396.6,267.7 L396.7,268.7 L396.8,269.7 L396.8,270.7 L396.9,271.7 L397.0,272.7 L397.1,273.7 L397.2,274.6 L397.3,275.6 L397.4,276.6 L397.6,277.6 L397.7,278.6 L397.8,279.6 L397.9,280.6 L398.0,281.6 L398.2,282.6 L398.3,283.6 L398.4,284.6 L398.5,285.6 L398.6,286.6 L398.7,287.6 L398.7,288.6 L398.8,289.6 L398.9,290.6 L399.0,291.6 L399.1,292.5 L399.2,293.5 L399.2,294.5 L399.3,295.5 L399.4,296.5 L399.4,297.5 L399.5,298.5 L399.6,299.5 L399.6,300.5 L399.7,301.5 L399.8,302.5 L399.8,303.5 L399.9,304.5 L399.9,305.5 L400.0,306.5 L400.1,307.5 L400.1,308.5 L400.2,309.5 L400.2,310.5 L400.3,311.5 L400.3,312.5 L400.4,313.5 L400.4,314.5 L400.5,315.5 L400.6,316.5 L400.6,317.5 L400.7,318.5 L400.7,319.5 L400.8,320.5 L400.8,321.5 L400.9,322.5 L401.0,323.5 L401.0,324.5 L401.1,325.5 L401.2,326.5 L401.2,327.5 L401.3,328.5 L401.3,329.5 L401.4,330.5 L401.5,331.5 L401.6,332.5 L401.6,333.5 L401.7,334.5 L401.8,335.5 L401.9,336.5 L402.0,337.5 L402.0,338.5 L402.1,339.4 L402.2,340.4 L402.3,341.4 L402.4,342.4 L402.5,343.4 L402.6,344.4 L402.7,345.4 L402.9,346.4 L403.0,347.4 L403.1,348.4 L403.2,349.4 L403.3,350.4 L403.5,351.4 L403.6,352.4 L403.8,353.4 L403.9,354.3 L404.1,355.3 L404.2,356.3 L404.4,357.3 L404.5,358.3 L404.7,359.3 L404.9,360.3 L405.1,361.2 L405.2,362.2 L405.4,363.2 L405.6,364.2 L405.8,365.2 L406.0,366.1 L406.2,367.1 L406.5,368.1 L406.7,369.1 L406.9,370.0 L407.1,371.0 L407.4,372.0 L407.6,373.0 L407.9,373.9 L408.1,374.9 L408.4,375.9 L408.7,376.8 L408.9,377.8 L409.2,378.7 L409.5,379.7 L409.8,380.7 L410.1,381.6 L410.4,382.6 L410.7,383.5 L411.1,384.5 L411.4,385.4 L411.7,386.3 L412.1,387.3 L412.4,388.2 L412.7,389.2 L413.1,390.1 L413.5,391.0 L413.8,392.0 L414.2,392.9 L414.6,393.8 L415.1,394.7 L415.6,395.5 L416.1,396.4 L416.6,397.2 L417.2,398.0 L417.8,398.8 L418.5,399.6 L419.1,400.3 L419.8,401.1 L420.5,401.8 L421.2,402.5 L421.9,403.2 L422.6,403.9 L423.4,404.5 L424.1,405.2 L424.9,405.8 L425.7,406.4 L426.5,407.0 L427.3,407.6 L428.2,408.1 L429.1,408.6 L429.9,409.0 L430.8,409.4 L431.8,409.8 L432.7,410.2 L433.6,410.5 L434.6,410.8 L435.6,411.0 L436.5,411.2 L437.5,411.4 L438.5,411.5 L439.5,411.6 L440.5,411.7 L441.5,411.8 L442.5,411.8 L443.5,411.9 L444.5,411.9 L445.5,411.9 L446.5,411.9 L447.5,412.0 L448.5,412.0 L449.5,412.0 L450.5,412.0 L451.5,412.0 L452.5,412.1 L453.5,412.1 L454.5,412.1 L455.4,412.1 L456.4,412.1 L457.4,412.1 L458.4,412.1 L459.5,412.1 L459.8,412.2 L327.1,412.2 Z" fill="#a0ccfa"/>
<rect x="44.3" y="44.1" width="132.3" height="179.8" fill="none" stroke="#000" stroke-width="1"/>
<path d="M44.3,193.9 h5.4 M176.6,193.9 h-5.4" stroke="#000" stroke-width="1" fill="none"/>
<path d="M44.3,164.0 h5.4 M176.6,164.0 h-5.4" stroke="#000" stroke-width="1" fill="none"/>
<path d="M44.3,134.0 h5.4 M176.6,134.0 h-5.4" stroke="#000" stroke-width="1" fill="none"/>
<path d="M44.3,104.0 h5.4 M176.6,104.0 h-5.4" stroke="#000" stroke-width="1" fill="none"/>
<path d="M44.3,74.1 h5.4 M176.6,74.1 h-5.4" stroke="#000" stroke-width="1" fill="none"/>
<path d="M44.3,223.9 v5.8" stroke="#000" stroke-width="1" fill="none"/>
<path d="M77.4,223.9 v5.8" stroke="#000" stroke-width="1" fill="none"/>
<path d="M110.5,223.9 v5.8" stroke="#000" stroke-width="1" fill="none"/>
<path d="M143.5,223.9 v5.8" stroke="#000" stroke-width="1" fill="none"/>
<rect x="185.65" y="44.1" width="132.4" height="179.8" fill="none" stroke="#000" stroke-width="1"/>
<path d="M185.65,193.9 h5.4 M318.05,193.9 h-5.4" stroke="#000" stroke-width="1" fill="none"/>
<path d="M185.65,164.0 h5.4 M318.05,164.0 h-5.4" stroke="#000" stroke-width="1" fill="none"/>
<path d="M185.65,134.0 h5.4 M318.05,134.0 h-5.4" stroke="#000" stroke-width="1" fill="none"/>
<path d="M185.65,104.0 h5.4 M318.05,104.0 h-5.4" stroke="#000" stroke-width="1" fill="none"/>
<path d="M185.65,74.1 h5.4 M318.05,74.1 h-5.4" stroke="#000" stroke-width="1" fill="none"/>
<path d="M185.7,223.9 v5.8" stroke="#000" stroke-width="1" fill="none"/>
<path d="M218.8,223.9 v5.8" stroke="#000" stroke-width="1" fill="none"/>
<path d="M251.9,223.9 v5.8" stroke="#000" stroke-width="1" fill="none"/>
<path d="M284.9,223.9 v5.8" stroke="#000" stroke-width="1" fill="none"/>
<rect x="327.1" y="44.1" width="132.7" height="179.8" fill="none" stroke="#000" stroke-width="1"/>
<path d="M327.1,193.9 h5.4 M459.8,193.9 h-5.4" stroke="#000" stroke-width="1" fill="none"/>
<path d="M327.1,164.0 h5.4 M459.8,164.0 h-5.4" stroke="#000" stroke-width="1" fill="none"/>
<path d="M327.1,134.0 h5.4 M459.8,134.0 h-5.4" stroke="#000" stroke-width="1" fill="none"/>
<path d="M327.1,104.0 h5.4 M459.8,104.0 h-5.4" stroke="#000" stroke-width="1" fill="none"/>
<path d="M327.1,74.1 h5.4 M459.8,74.1 h-5.4" stroke="#000" stroke-width="1" fill="none"/>
<path d="M327.1,223.9 v5.8" stroke="#000" stroke-width="1" fill="none"/>
<path d="M360.3,223.9 v5.8" stroke="#000" stroke-width="1" fill="none"/>
<path d="M393.5,223.9 v5.8" stroke="#000" stroke-width="1" fill="none"/>
<path d="M426.6,223.9 v5.8" stroke="#000" stroke-width="1" fill="none"/>
<text x="35.3" y="228.1" text-anchor="end" class="t">0</text>
<text x="35.3" y="198.1" text-anchor="end" class="t">2</text>
<text x="35.3" y="168.2" text-anchor="end" class="t">4</text>
<text x="35.3" y="138.2" text-anchor="end" class="t">6</text>
<text x="35.3" y="108.2" text-anchor="end" class="t">8</text>
<text x="35.3" y="78.3" text-anchor="end" class="t" textLength="14.6" lengthAdjust="spacingAndGlyphs">10</text>
<rect x="44.3" y="235.8" width="132.3" height="176.39999999999998" fill="none" stroke="#000" stroke-width="1"/>
<path d="M44.3,382.8 h5.4 M176.6,382.8 h-5.4" stroke="#000" stroke-width="1" fill="none"/>
<path d="M44.3,353.4 h5.4 M176.6,353.4 h-5.4" stroke="#000" stroke-width="1" fill="none"/>
<path d="M44.3,324.0 h5.4 M176.6,324.0 h-5.4" stroke="#000" stroke-width="1" fill="none"/>
<path d="M44.3,294.6 h5.4 M176.6,294.6 h-5.4" stroke="#000" stroke-width="1" fill="none"/>
<path d="M44.3,265.2 h5.4 M176.6,265.2 h-5.4" stroke="#000" stroke-width="1" fill="none"/>
<path d="M44.3,412.2 v5.8" stroke="#000" stroke-width="1" fill="none"/>
<path d="M77.4,412.2 v5.8" stroke="#000" stroke-width="1" fill="none"/>
<path d="M110.5,412.2 v5.8" stroke="#000" stroke-width="1" fill="none"/>
<path d="M143.5,412.2 v5.8" stroke="#000" stroke-width="1" fill="none"/>
<rect x="185.65" y="235.8" width="132.4" height="176.39999999999998" fill="none" stroke="#000" stroke-width="1"/>
<path d="M185.65,382.8 h5.4 M318.05,382.8 h-5.4" stroke="#000" stroke-width="1" fill="none"/>
<path d="M185.65,353.4 h5.4 M318.05,353.4 h-5.4" stroke="#000" stroke-width="1" fill="none"/>
<path d="M185.65,324.0 h5.4 M318.05,324.0 h-5.4" stroke="#000" stroke-width="1" fill="none"/>
<path d="M185.65,294.6 h5.4 M318.05,294.6 h-5.4" stroke="#000" stroke-width="1" fill="none"/>
<path d="M185.65,265.2 h5.4 M318.05,265.2 h-5.4" stroke="#000" stroke-width="1" fill="none"/>
<path d="M185.7,412.2 v5.8" stroke="#000" stroke-width="1" fill="none"/>
<path d="M218.8,412.2 v5.8" stroke="#000" stroke-width="1" fill="none"/>
<path d="M251.9,412.2 v5.8" stroke="#000" stroke-width="1" fill="none"/>
<path d="M284.9,412.2 v5.8" stroke="#000" stroke-width="1" fill="none"/>
<rect x="327.1" y="235.8" width="132.7" height="176.39999999999998" fill="none" stroke="#000" stroke-width="1"/>
<path d="M327.1,382.8 h5.4 M459.8,382.8 h-5.4" stroke="#000" stroke-width="1" fill="none"/>
<path d="M327.1,353.4 h5.4 M459.8,353.4 h-5.4" stroke="#000" stroke-width="1" fill="none"/>
<path d="M327.1,324.0 h5.4 M459.8,324.0 h-5.4" stroke="#000" stroke-width="1" fill="none"/>
<path d="M327.1,294.6 h5.4 M459.8,294.6 h-5.4" stroke="#000" stroke-width="1" fill="none"/>
<path d="M327.1,265.2 h5.4 M459.8,265.2 h-5.4" stroke="#000" stroke-width="1" fill="none"/>
<path d="M327.1,412.2 v5.8" stroke="#000" stroke-width="1" fill="none"/>
<path d="M360.3,412.2 v5.8" stroke="#000" stroke-width="1" fill="none"/>
<path d="M393.5,412.2 v5.8" stroke="#000" stroke-width="1" fill="none"/>
<path d="M426.6,412.2 v5.8" stroke="#000" stroke-width="1" fill="none"/>
<text x="35.3" y="416.4" text-anchor="end" class="t">0</text>
<text x="35.3" y="387.0" text-anchor="end" class="t">2</text>
<text x="35.3" y="357.6" text-anchor="end" class="t">4</text>
<text x="35.3" y="328.2" text-anchor="end" class="t">6</text>
<text x="35.3" y="298.8" text-anchor="end" class="t">8</text>
<text x="35.3" y="269.4" text-anchor="end" class="t" textLength="14.6" lengthAdjust="spacingAndGlyphs">10</text>
<text x="44.3" y="436.5" text-anchor="middle" class="t">30</text>
<text x="77.4" y="436.5" text-anchor="middle" class="t">35</text>
<text x="110.5" y="436.5" text-anchor="middle" class="t">40</text>
<text x="143.5" y="436.5" text-anchor="middle" class="t">45</text>
<text x="185.7" y="436.5" text-anchor="middle" class="t">30</text>
<text x="218.8" y="436.5" text-anchor="middle" class="t">35</text>
<text x="251.9" y="436.5" text-anchor="middle" class="t">40</text>
<text x="284.9" y="436.5" text-anchor="middle" class="t">45</text>
<text x="327.1" y="436.5" text-anchor="middle" class="t">30</text>
<text x="360.3" y="436.5" text-anchor="middle" class="t">35</text>
<text x="393.5" y="436.5" text-anchor="middle" class="t">40</text>
<text x="426.6" y="436.5" text-anchor="middle" class="t">45</text>
<g clip-path="url(#c00)">
<path d="M44.3,223.8 L45.4,223.8 L46.4,223.8 L47.4,223.8 L48.3,223.8 L49.3,223.8 L50.3,223.8 L51.3,223.8 L52.3,223.7 L53.3,223.7 L54.3,223.7 L55.3,223.7 L56.3,223.7 L57.3,223.7 L58.3,223.6 L59.3,223.6 L60.3,223.6 L61.3,223.5 L62.3,223.5 L63.3,223.5 L64.3,223.4 L65.3,223.4 L66.3,223.4 L67.3,223.3 L68.3,223.3 L69.3,223.2 L70.3,223.2 L71.3,223.1 L72.3,223.0 L73.3,222.9 L74.3,222.7 L75.2,222.5 L76.2,222.3 L77.1,222.0 L78.1,221.7 L79.0,221.3 L79.9,220.9 L80.7,220.4 L81.5,219.8 L82.3,219.2 L83.0,218.5 L83.6,217.8 L84.3,217.0 L84.8,216.2 L85.3,215.3 L85.7,214.5 L86.1,213.5 L86.5,212.6 L86.8,211.7 L87.1,210.7 L87.3,209.7 L87.5,208.8 L87.7,207.8 L88.0,206.8 L88.2,205.8 L88.4,204.9 L88.6,203.9 L88.8,202.9 L89.0,201.9 L89.2,200.9 L89.3,200.0 L89.5,199.0 L89.7,198.0 L89.9,197.0 L90.0,196.0 L90.2,195.0 L90.4,194.1 L90.5,193.1 L90.7,192.1 L90.8,191.1 L91.0,190.1 L91.1,189.1 L91.3,188.1 L91.4,187.1 L91.5,186.1 L91.7,185.1 L91.8,184.2 L91.9,183.2 L92.0,182.2 L92.2,181.2 L92.3,180.2 L92.4,179.2 L92.5,178.2 L92.6,177.2 L92.7,176.2 L92.8,175.2 L92.9,174.2 L93.0,173.2 L93.1,172.2 L93.2,171.2 L93.3,170.2 L93.4,169.2 L93.5,168.2 L93.6,167.2 L93.6,166.3 L93.7,165.3 L93.8,164.3 L93.9,163.3 L94.0,162.3 L94.0,161.3 L94.1,160.3 L94.2,159.3 L94.3,158.3 L94.3,157.3 L94.4,156.3 L94.5,155.3 L94.6,154.3 L94.6,153.3 L94.7,152.3 L94.8,151.3 L94.8,150.3 L94.9,149.3 L95.0,148.3 L95.0,147.3 L95.1,146.3 L95.2,145.3 L95.3,144.3 L95.3,143.3 L95.4,142.3 L95.5,141.3 L95.5,140.3 L95.6,139.3 L95.7,138.3 L95.8,137.3 L95.8,136.3 L95.9,135.3 L96.0,134.3 L96.1,133.3 L96.1,132.3 L96.2,131.3 L96.3,130.4 L96.4,129.4 L96.5,128.4 L96.5,127.4 L96.6,126.4 L96.7,125.4 L96.8,124.4 L96.9,123.4 L97.0,122.4 L97.1,121.4 L97.2,120.4 L97.3,119.4 L97.4,118.4 L97.5,117.4 L97.6,116.4 L97.7,115.4 L97.8,114.4 L97.9,113.4 L98.1,112.4 L98.2,111.4 L98.3,110.5 L98.4,109.5 L98.5,108.5 L98.6,107.5 L98.7,106.5 L98.8,105.5 L98.9,104.5 L99.0,103.5 L99.1,102.5 L99.2,101.5 L99.3,100.5 L99.4,99.5 L99.5,98.5 L99.5,97.5 L99.6,96.5 L99.7,95.5 L99.8,94.5 L100.0,93.5 L100.1,92.5 L100.2,91.6 L100.3,90.6 L100.5,89.6 L100.6,88.6 L100.8,87.6 L100.9,86.7 L101.1,85.8 L101.3,84.8 L101.5,83.8 L101.8,82.7 L102.5,83.3 L102.8,84.3 L103.1,85.3 L103.3,86.1 L103.6,87.1 L103.8,88.0 L104.0,89.0 L104.2,89.9 L104.4,90.9 L104.6,91.9 L104.7,92.9 L104.8,93.9 L105.0,94.9 L105.1,95.9 L105.2,96.9 L105.3,97.9 L105.3,98.9 L105.4,99.8 L105.5,100.8 L105.6,101.8 L105.7,102.8 L105.8,103.8 L105.9,104.8 L105.9,105.8 L106.0,106.8 L106.1,107.8 L106.2,108.8 L106.3,109.8 L106.4,110.8 L106.5,111.8 L106.6,112.8 L106.7,113.8 L106.7,114.8 L106.8,115.8 L106.9,116.8 L107.0,117.8 L107.1,118.8 L107.2,119.8 L107.3,120.8 L107.3,121.8 L107.4,122.8 L107.5,123.8 L107.6,124.8 L107.6,125.8 L107.7,126.8 L107.8,127.7 L107.8,128.7 L107.9,129.7 L108.0,130.7 L108.0,131.7 L108.1,132.7 L108.2,133.7 L108.2,134.7 L108.3,135.7 L108.4,136.7 L108.4,137.7 L108.5,138.7 L108.5,139.7 L108.6,140.7 L108.6,141.7 L108.7,142.7 L108.7,143.7 L108.8,144.7 L108.8,145.7 L108.9,146.7 L108.9,147.7 L109.0,148.7 L109.0,149.7 L109.1,150.7 L109.1,151.7 L109.2,152.7 L109.2,153.7 L109.3,154.7 L109.3,155.7 L109.3,156.7 L109.4,157.7 L109.4,158.7 L109.5,159.7 L109.5,160.7 L109.5,161.7 L109.6,162.7 L109.6,163.7 L109.7,164.7 L109.7,165.7 L109.7,166.7 L109.8,167.7 L109.8,168.7 L109.9,169.7 L109.9,170.7 L110.0,171.7 L110.0,172.7 L110.1,173.7 L110.1,174.7 L110.2,175.7 L110.3,176.7 L110.4,177.7 L110.5,178.7 L110.6,179.7 L110.7,180.7 L110.8,181.7 L110.9,182.6 L111.1,183.6 L111.3,184.6 L111.4,185.6 L111.6,186.6 L111.8,187.6 L112.1,188.5 L112.3,189.5 L112.6,190.5 L112.8,191.4 L113.1,192.4 L113.4,193.3 L113.8,194.3 L114.1,195.2 L114.5,196.1 L114.8,197.1 L115.2,198.0 L115.7,198.9 L116.1,199.8 L116.5,200.7 L117.0,201.6 L117.5,202.5 L118.0,203.3 L118.5,204.2 L119.0,205.0 L119.6,205.9 L120.1,206.7 L120.7,207.5 L121.4,208.2 L122.1,208.9 L122.8,209.6 L123.5,210.3 L124.3,211.0 L125.0,211.6 L125.8,212.2 L126.7,212.7 L127.5,213.3 L128.4,213.8 L129.2,214.3 L130.1,214.7 L131.0,215.1 L131.9,215.6 L132.8,215.9 L133.8,216.3 L134.7,216.7 L135.7,217.0 L136.6,217.3 L137.6,217.6 L138.5,217.9 L139.5,218.2 L140.4,218.4 L141.4,218.7 L142.4,218.9 L143.4,219.1 L144.3,219.4 L145.3,219.6 L146.3,219.8 L147.3,220.0 L148.2,220.2 L149.2,220.4 L150.2,220.6 L151.2,220.7 L152.2,220.9 L153.2,221.0 L154.2,221.1 L155.2,221.2 L156.1,221.3 L157.1,221.4 L158.1,221.5 L159.1,221.6 L160.1,221.7 L161.1,221.7 L162.1,221.8 L163.1,221.9 L164.1,221.9 L165.1,222.0 L166.1,222.1 L167.1,222.1 L168.1,222.2 L169.1,222.2 L170.1,222.3 L171.1,222.3 L172.1,222.3 L173.1,222.4 L174.0,222.4 L175.0,222.4 L176.1,222.4" fill="none" stroke="#20208c" stroke-width="1.8" stroke-linejoin="round"/>
<path d="M44.3,223.3 L45.4,223.2 L46.4,223.2 L47.3,223.1 L48.3,222.9 L49.3,222.8 L50.3,222.7 L51.3,222.5 L52.2,222.3 L53.2,222.2 L54.2,222.0 L55.2,221.8 L56.2,221.6 L57.1,221.4 L58.1,221.2 L59.1,220.9 L60.1,220.7 L61.0,220.5 L62.0,220.2 L62.9,219.9 L63.9,219.6 L64.8,219.2 L65.8,218.9 L66.7,218.5 L67.6,218.0 L68.5,217.6 L69.3,217.1 L70.1,216.5 L70.9,216.0 L71.7,215.3 L72.4,214.6 L73.1,213.9 L73.7,213.2 L74.3,212.4 L74.9,211.6 L75.5,210.7 L76.0,209.9 L76.5,209.0 L77.0,208.2 L77.5,207.3 L77.9,206.4 L78.3,205.5 L78.7,204.6 L79.0,203.6 L79.4,202.7 L79.7,201.7 L80.0,200.8 L80.3,199.8 L80.6,198.9 L80.9,197.9 L81.2,197.0 L81.5,196.0 L81.7,195.0 L82.0,194.1 L82.3,193.1 L82.5,192.1 L82.8,191.2 L83.0,190.2 L83.3,189.2 L83.5,188.3 L83.8,187.3 L84.0,186.3 L84.2,185.4 L84.5,184.4 L84.7,183.4 L84.9,182.4 L85.1,181.5 L85.3,180.5 L85.5,179.5 L85.7,178.5 L85.9,177.5 L86.1,176.6 L86.3,175.6 L86.5,174.6 L86.7,173.6 L86.9,172.6 L87.1,171.7 L87.2,170.7 L87.4,169.7 L87.6,168.7 L87.7,167.7 L87.9,166.7 L88.1,165.7 L88.2,164.7 L88.4,163.8 L88.5,162.8 L88.7,161.8 L88.8,160.8 L88.9,159.8 L89.1,158.8 L89.2,157.8 L89.4,156.8 L89.5,155.8 L89.6,154.8 L89.8,153.9 L89.9,152.9 L90.0,151.9 L90.1,150.9 L90.3,149.9 L90.4,148.9 L90.5,147.9 L90.6,146.9 L90.7,145.9 L90.8,144.9 L91.0,143.9 L91.1,142.9 L91.2,141.9 L91.3,140.9 L91.4,140.0 L91.5,139.0 L91.6,138.0 L91.7,137.0 L91.9,136.0 L92.0,135.0 L92.1,134.0 L92.2,133.0 L92.3,132.0 L92.4,131.0 L92.5,130.0 L92.6,129.0 L92.7,128.0 L92.9,127.0 L93.0,126.0 L93.1,125.1 L93.2,124.1 L93.4,123.1 L93.5,122.1 L93.7,121.1 L93.9,120.1 L94.0,119.1 L94.2,118.1 L94.4,117.2 L94.6,116.2 L94.7,115.2 L94.9,114.2 L95.1,113.2 L95.3,112.2 L95.5,111.3 L95.7,110.3 L95.9,109.3 L96.1,108.3 L96.3,107.4 L96.5,106.5 L96.7,105.6 L96.9,104.6 L97.2,103.5 L97.8,103.2 L98.1,104.3 L98.3,105.3 L98.5,106.2 L98.7,107.1 L98.8,108.1 L99.0,109.1 L99.2,110.0 L99.3,111.0 L99.4,112.0 L99.6,113.0 L99.7,114.0 L99.8,115.0 L100.0,116.0 L100.1,117.0 L100.2,118.0 L100.3,119.0 L100.4,120.0 L100.5,120.9 L100.6,121.9 L100.8,122.9 L100.9,123.9 L101.0,124.9 L101.1,125.9 L101.3,126.9 L101.4,127.9 L101.5,128.9 L101.7,129.9 L101.8,130.9 L101.9,131.9 L102.1,132.8 L102.2,133.8 L102.3,134.8 L102.4,135.8 L102.5,136.8 L102.7,137.8 L102.8,138.8 L102.9,139.8 L103.0,140.8 L103.1,141.8 L103.2,142.8 L103.2,143.8 L103.3,144.8 L103.4,145.8 L103.5,146.8 L103.6,147.8 L103.7,148.8 L103.8,149.8 L103.8,150.8 L103.9,151.8 L104.0,152.8 L104.1,153.7 L104.2,154.7 L104.2,155.7 L104.3,156.7 L104.4,157.7 L104.5,158.7 L104.5,159.7 L104.6,160.7 L104.7,161.7 L104.7,162.7 L104.8,163.7 L104.9,164.7 L105.0,165.7 L105.0,166.7 L105.1,167.7 L105.2,168.7 L105.3,169.7 L105.3,170.7 L105.4,171.7 L105.5,172.7 L105.6,173.7 L105.7,174.7 L105.7,175.7 L105.8,176.7 L105.9,177.7 L106.0,178.7 L106.1,179.7 L106.2,180.7 L106.3,181.7 L106.4,182.7 L106.5,183.6 L106.6,184.6 L106.7,185.6 L106.8,186.6 L107.0,187.6 L107.1,188.6 L107.2,189.6 L107.3,190.6 L107.5,191.6 L107.6,192.6 L107.7,193.6 L107.9,194.6 L108.0,195.6 L108.2,196.5 L108.3,197.5 L108.5,198.5 L108.7,199.5 L108.8,200.5 L109.0,201.5 L109.2,202.5 L109.4,203.4 L109.6,204.4 L109.8,205.4 L110.0,206.4 L110.2,207.4 L110.4,208.3 L110.7,209.3 L110.9,210.2 L111.3,211.2 L111.6,212.1 L112.1,213.0 L112.5,213.9 L113.1,214.7 L113.6,215.5 L114.3,216.2 L115.0,216.9 L115.8,217.5 L116.6,218.0 L117.4,218.5 L118.3,219.0 L119.2,219.4 L120.1,219.7 L121.1,220.0 L122.0,220.3 L123.0,220.6 L124.0,220.8 L125.0,221.0 L126.0,221.1 L126.9,221.3 L127.9,221.4 L128.9,221.6 L129.9,221.7 L130.9,221.8 L131.9,221.9 L132.9,222.0 L133.9,222.1 L134.9,222.2 L135.9,222.2 L136.9,222.3 L137.9,222.4 L138.9,222.5 L139.9,222.6 L140.9,222.6 L141.9,222.7 L142.9,222.8 L143.9,222.8 L144.9,222.9 L145.9,223.0 L146.9,223.0 L147.9,223.1 L148.9,223.1 L149.9,223.2 L150.9,223.2 L151.9,223.2 L152.8,223.3 L153.8,223.3 L154.8,223.3 L155.8,223.3 L156.8,223.3 L157.8,223.3 L158.8,223.4 L159.8,223.4 L160.8,223.4 L161.8,223.4 L162.8,223.4 L163.8,223.4 L164.8,223.4 L165.8,223.4 L166.8,223.4 L167.8,223.4 L168.8,223.4 L169.8,223.4 L170.8,223.4 L171.8,223.4 L172.8,223.4 L173.8,223.4 L174.8,223.4 L175.8,223.4" fill="none" stroke="#98040c" stroke-width="1.55" stroke-dasharray="3.7 1.27" stroke-dashoffset="0.47" stroke-linejoin="round"/>
</g>
<g clip-path="url(#c01)">
<path d="M185.7,223.9 L186.7,223.9 L187.7,223.9 L188.7,224.0 L189.7,224.0 L190.7,224.0 L191.7,224.0 L192.7,224.0 L193.6,224.0 L194.6,224.0 L195.6,224.0 L196.6,224.0 L197.6,224.0 L198.6,224.0 L199.6,224.0 L200.6,224.0 L201.6,224.0 L202.6,224.0 L203.6,224.0 L204.6,224.0 L205.6,223.9 L206.6,223.9 L207.6,223.8 L208.6,223.8 L209.6,223.7 L210.6,223.6 L211.6,223.6 L212.6,223.4 L213.6,223.3 L214.6,223.1 L215.6,222.9 L216.5,222.6 L217.4,222.3 L218.3,221.9 L219.1,221.4 L219.9,220.8 L220.6,220.2 L221.2,219.4 L221.8,218.6 L222.2,217.8 L222.7,216.9 L223.0,216.0 L223.3,215.0 L223.6,214.1 L223.9,213.1 L224.1,212.2 L224.4,211.2 L224.6,210.2 L224.8,209.2 L225.0,208.2 L225.2,207.3 L225.3,206.3 L225.5,205.3 L225.7,204.3 L225.8,203.3 L226.0,202.3 L226.1,201.3 L226.3,200.3 L226.4,199.4 L226.6,198.4 L226.7,197.4 L226.8,196.4 L226.9,195.4 L227.1,194.4 L227.2,193.4 L227.3,192.4 L227.4,191.4 L227.5,190.4 L227.6,189.4 L227.7,188.4 L227.8,187.4 L227.9,186.5 L228.0,185.5 L228.1,184.5 L228.2,183.5 L228.3,182.5 L228.4,181.5 L228.5,180.5 L228.6,179.5 L228.7,178.5 L228.8,177.5 L228.9,176.5 L229.0,175.5 L229.0,174.5 L229.1,173.5 L229.2,172.5 L229.3,171.5 L229.4,170.5 L229.5,169.5 L229.6,168.5 L229.7,167.5 L229.7,166.5 L229.8,165.5 L229.9,164.5 L230.0,163.5 L230.1,162.5 L230.2,161.6 L230.3,160.6 L230.4,159.6 L230.5,158.6 L230.6,157.6 L230.7,156.6 L230.8,155.6 L230.9,154.6 L231.1,153.6 L231.2,152.6 L231.3,151.6 L231.4,150.6 L231.6,149.6 L231.7,148.6 L231.8,147.6 L232.0,146.7 L232.1,145.7 L232.2,144.7 L232.4,143.7 L232.5,142.7 L232.6,141.7 L232.8,140.7 L232.9,139.7 L233.1,138.7 L233.2,137.7 L233.3,136.8 L233.5,135.8 L233.6,134.8 L233.8,133.8 L233.9,132.8 L234.1,131.8 L234.3,130.8 L234.4,129.8 L234.6,128.9 L234.8,127.9 L235.0,126.9 L235.2,125.9 L235.4,125.0 L235.7,124.0 L235.9,123.1 L236.2,122.2 L236.5,121.3 L236.8,120.3 L237.2,119.2 L237.9,119.4 L238.4,120.4 L238.8,121.3 L239.2,122.2 L239.6,123.0 L239.9,123.9 L240.2,124.9 L240.5,125.8 L240.7,126.8 L241.0,127.7 L241.2,128.7 L241.5,129.7 L241.7,130.7 L241.9,131.6 L242.1,132.6 L242.3,133.6 L242.4,134.6 L242.6,135.6 L242.8,136.6 L243.0,137.5 L243.2,138.5 L243.3,139.5 L243.5,140.5 L243.7,141.5 L243.9,142.5 L244.1,143.4 L244.3,144.4 L244.5,145.4 L244.7,146.4 L245.0,147.3 L245.2,148.3 L245.4,149.3 L245.7,150.3 L245.9,151.2 L246.1,152.2 L246.3,153.2 L246.5,154.2 L246.7,155.1 L246.9,156.1 L247.1,157.1 L247.3,158.1 L247.5,159.1 L247.7,160.1 L247.9,161.0 L248.1,162.0 L248.2,163.0 L248.4,164.0 L248.6,165.0 L248.8,165.9 L249.0,166.9 L249.2,167.9 L249.4,168.9 L249.5,169.9 L249.7,170.9 L249.9,171.8 L250.1,172.8 L250.3,173.8 L250.6,174.8 L250.8,175.7 L251.0,176.7 L251.2,177.7 L251.5,178.7 L251.7,179.6 L252.0,180.6 L252.2,181.6 L252.5,182.5 L252.8,183.5 L253.0,184.5 L253.3,185.4 L253.6,186.4 L253.9,187.3 L254.3,188.3 L254.6,189.2 L254.9,190.1 L255.3,191.1 L255.7,192.0 L256.0,192.9 L256.4,193.9 L256.8,194.8 L257.2,195.7 L257.7,196.6 L258.1,197.5 L258.5,198.4 L259.0,199.3 L259.5,200.2 L259.9,201.0 L260.4,201.9 L260.9,202.8 L261.5,203.6 L262.0,204.4 L262.6,205.3 L263.2,206.1 L263.8,206.8 L264.5,207.6 L265.2,208.3 L265.9,209.0 L266.6,209.7 L267.3,210.4 L268.1,211.0 L268.8,211.7 L269.6,212.3 L270.4,212.8 L271.3,213.4 L272.1,213.9 L273.0,214.4 L273.9,214.9 L274.8,215.3 L275.7,215.7 L276.6,216.1 L277.5,216.5 L278.5,216.8 L279.4,217.1 L280.4,217.5 L281.3,217.8 L282.3,218.1 L283.2,218.4 L284.2,218.6 L285.1,218.9 L286.1,219.2 L287.1,219.4 L288.1,219.6 L289.0,219.8 L290.0,220.0 L291.0,220.2 L292.0,220.4 L293.0,220.6 L293.9,220.8 L294.9,220.9 L295.9,221.0 L296.9,221.2 L297.9,221.3 L298.9,221.4 L299.9,221.6 L300.9,221.7 L301.9,221.8 L302.9,221.9 L303.9,222.0 L304.9,222.1 L305.9,222.2 L306.9,222.2 L307.8,222.3 L308.8,222.4 L309.8,222.5 L310.8,222.5 L311.8,222.6 L312.8,222.7 L313.8,222.7 L314.8,222.8 L315.7,222.8 L316.8,222.9 L317.8,222.9" fill="none" stroke="#20208c" stroke-width="1.8" stroke-linejoin="round"/>
<path d="M185.7,223.5 L186.7,223.5 L187.7,223.5 L188.7,223.5 L189.7,223.5 L190.7,223.5 L191.7,223.5 L192.6,223.4 L193.6,223.4 L194.6,223.3 L195.6,223.3 L196.6,223.2 L197.6,223.1 L198.6,223.0 L199.6,222.9 L200.6,222.8 L201.6,222.7 L202.6,222.6 L203.6,222.5 L204.6,222.4 L205.6,222.2 L206.6,222.1 L207.6,221.9 L208.5,221.7 L209.5,221.5 L210.5,221.2 L211.4,220.9 L212.3,220.6 L213.2,220.2 L214.1,219.7 L214.9,219.2 L215.6,218.5 L216.3,217.8 L216.9,217.1 L217.4,216.3 L217.8,215.4 L218.2,214.5 L218.6,213.6 L218.9,212.6 L219.2,211.7 L219.5,210.7 L219.8,209.7 L220.0,208.8 L220.2,207.8 L220.4,206.8 L220.6,205.8 L220.7,204.8 L220.9,203.9 L221.1,202.9 L221.2,201.9 L221.4,200.9 L221.5,199.9 L221.7,198.9 L221.8,197.9 L222.0,196.9 L222.1,196.0 L222.3,195.0 L222.4,194.0 L222.6,193.0 L222.7,192.0 L222.8,191.0 L223.0,190.0 L223.1,189.0 L223.2,188.0 L223.4,187.0 L223.5,186.1 L223.6,185.1 L223.7,184.1 L223.9,183.1 L224.0,182.1 L224.1,181.1 L224.2,180.1 L224.3,179.1 L224.5,178.1 L224.6,177.1 L224.7,176.1 L224.8,175.1 L224.9,174.1 L225.0,173.1 L225.1,172.1 L225.2,171.2 L225.3,170.2 L225.4,169.2 L225.5,168.2 L225.6,167.2 L225.7,166.2 L225.8,165.2 L225.9,164.2 L226.0,163.2 L226.1,162.2 L226.2,161.2 L226.3,160.2 L226.4,159.2 L226.5,158.2 L226.6,157.2 L226.7,156.2 L226.8,155.2 L226.9,154.2 L227.0,153.2 L227.1,152.2 L227.2,151.3 L227.3,150.3 L227.4,149.3 L227.5,148.3 L227.6,147.3 L227.7,146.3 L227.8,145.3 L227.9,144.3 L228.0,143.3 L228.1,142.3 L228.2,141.3 L228.3,140.3 L228.4,139.3 L228.5,138.3 L228.6,137.3 L228.7,136.3 L228.8,135.3 L228.9,134.3 L229.0,133.3 L229.1,132.3 L229.2,131.4 L229.3,130.4 L229.4,129.4 L229.5,128.4 L229.7,127.4 L229.8,126.4 L229.9,125.4 L230.0,124.4 L230.1,123.4 L230.2,122.4 L230.4,121.4 L230.5,120.4 L230.6,119.4 L230.7,118.4 L230.9,117.4 L231.0,116.5 L231.1,115.5 L231.2,114.5 L231.4,113.5 L231.6,112.5 L231.7,111.5 L231.9,110.6 L232.1,109.7 L232.3,108.8 L232.6,107.8 L232.9,106.7 L233.5,106.9 L233.8,108.0 L234.0,109.0 L234.3,109.9 L234.5,110.8 L234.7,111.7 L234.9,112.7 L235.2,113.7 L235.4,114.7 L235.5,115.6 L235.7,116.6 L235.9,117.6 L236.1,118.6 L236.2,119.6 L236.4,120.6 L236.6,121.5 L236.7,122.5 L236.9,123.5 L237.1,124.5 L237.2,125.5 L237.4,126.5 L237.5,127.5 L237.7,128.5 L237.8,129.5 L237.9,130.4 L238.1,131.4 L238.2,132.4 L238.3,133.4 L238.5,134.4 L238.6,135.4 L238.7,136.4 L238.9,137.4 L239.0,138.4 L239.1,139.4 L239.2,140.4 L239.3,141.4 L239.4,142.3 L239.6,143.3 L239.7,144.3 L239.8,145.3 L239.9,146.3 L240.0,147.3 L240.1,148.3 L240.2,149.3 L240.3,150.3 L240.5,151.3 L240.6,152.3 L240.7,153.3 L240.8,154.3 L240.9,155.3 L241.0,156.3 L241.1,157.3 L241.3,158.2 L241.4,159.2 L241.5,160.2 L241.6,161.2 L241.8,162.2 L241.9,163.2 L242.0,164.2 L242.1,165.2 L242.3,166.2 L242.4,167.2 L242.5,168.2 L242.7,169.2 L242.8,170.1 L243.0,171.1 L243.1,172.1 L243.3,173.1 L243.4,174.1 L243.6,175.1 L243.8,176.1 L243.9,177.1 L244.1,178.0 L244.3,179.0 L244.5,180.0 L244.6,181.0 L244.8,182.0 L245.0,183.0 L245.2,183.9 L245.4,184.9 L245.6,185.9 L245.9,186.9 L246.1,187.8 L246.3,188.8 L246.5,189.8 L246.8,190.8 L247.0,191.7 L247.3,192.7 L247.5,193.7 L247.8,194.6 L248.0,195.6 L248.3,196.6 L248.6,197.5 L248.9,198.5 L249.2,199.4 L249.5,200.4 L249.8,201.3 L250.1,202.3 L250.4,203.2 L250.8,204.2 L251.1,205.1 L251.5,206.0 L252.0,206.9 L252.4,207.8 L252.9,208.7 L253.4,209.5 L253.9,210.4 L254.5,211.2 L255.0,212.0 L255.6,212.8 L256.3,213.6 L257.0,214.3 L257.7,214.9 L258.5,215.6 L259.3,216.1 L260.1,216.7 L261.0,217.2 L261.9,217.6 L262.8,218.0 L263.7,218.4 L264.6,218.8 L265.6,219.1 L266.5,219.4 L267.5,219.7 L268.4,219.9 L269.4,220.2 L270.4,220.4 L271.4,220.7 L272.3,220.9 L273.3,221.0 L274.3,221.2 L275.3,221.4 L276.3,221.5 L277.3,221.6 L278.3,221.7 L279.3,221.9 L280.2,222.0 L281.2,222.1 L282.2,222.2 L283.2,222.3 L284.2,222.3 L285.2,222.4 L286.2,222.5 L287.2,222.6 L288.2,222.6 L289.2,222.7 L290.2,222.8 L291.2,222.9 L292.2,222.9 L293.2,223.0 L294.2,223.0 L295.2,223.1 L296.2,223.2 L297.2,223.2 L298.2,223.3 L299.2,223.3 L300.2,223.4 L301.2,223.4 L302.2,223.4 L303.2,223.5 L304.2,223.5 L305.2,223.5 L306.2,223.5 L307.2,223.5 L308.2,223.5 L309.2,223.6 L310.2,223.6 L311.2,223.6 L312.2,223.6 L313.2,223.6 L314.1,223.6 L315.1,223.6 L316.1,223.6 L317.1,223.6" fill="none" stroke="#98040c" stroke-width="1.55" stroke-dasharray="3.7 1.27" stroke-dashoffset="1.34" stroke-linejoin="round"/>
</g>
<g clip-path="url(#c02)">
<path d="M327.1,223.9 L328.2,223.9 L329.2,223.9 L330.2,223.9 L331.1,223.9 L332.1,223.9 L333.1,223.9 L334.1,223.9 L335.1,223.9 L336.1,223.9 L337.1,223.9 L338.1,223.9 L339.1,223.9 L340.1,223.9 L341.1,223.9 L342.1,223.9 L343.1,223.9 L344.1,223.8 L345.1,223.8 L346.1,223.8 L347.1,223.8 L348.1,223.8 L349.1,223.8 L350.1,223.8 L351.1,223.8 L352.1,223.8 L353.1,223.8 L354.1,223.8 L355.1,223.8 L356.1,223.7 L357.1,223.7 L358.1,223.7 L359.1,223.7 L360.1,223.7 L361.1,223.7 L362.1,223.7 L363.1,223.7 L364.1,223.6 L365.1,223.6 L366.1,223.6 L367.1,223.5 L368.1,223.5 L369.1,223.4 L370.1,223.4 L371.1,223.3 L372.1,223.2 L373.1,223.1 L374.1,223.0 L375.1,222.9 L376.0,222.8 L377.0,222.6 L378.0,222.3 L378.9,222.0 L379.9,221.7 L380.8,221.3 L381.6,220.8 L382.4,220.3 L383.2,219.7 L383.9,219.0 L384.6,218.3 L385.2,217.5 L385.7,216.7 L386.2,215.8 L386.6,214.9 L386.9,214.0 L387.3,213.1 L387.5,212.1 L387.8,211.2 L387.9,210.2 L388.1,209.2 L388.3,208.2 L388.4,207.2 L388.5,206.2 L388.7,205.2 L388.8,204.2 L388.9,203.2 L389.0,202.3 L389.2,201.3 L389.3,200.3 L389.4,199.3 L389.5,198.3 L389.6,197.3 L389.7,196.3 L389.8,195.3 L389.9,194.3 L390.0,193.3 L390.1,192.3 L390.2,191.3 L390.3,190.3 L390.4,189.3 L390.5,188.3 L390.6,187.3 L390.6,186.3 L390.7,185.3 L390.8,184.3 L390.9,183.3 L391.0,182.4 L391.0,181.4 L391.1,180.4 L391.2,179.4 L391.2,178.4 L391.3,177.4 L391.3,176.4 L391.4,175.4 L391.5,174.4 L391.5,173.4 L391.6,172.4 L391.6,171.4 L391.7,170.4 L391.7,169.4 L391.8,168.4 L391.8,167.4 L391.9,166.4 L391.9,165.4 L392.0,164.4 L392.0,163.4 L392.0,162.4 L392.1,161.4 L392.1,160.4 L392.2,159.4 L392.2,158.4 L392.2,157.4 L392.3,156.4 L392.3,155.4 L392.3,154.4 L392.4,153.4 L392.4,152.4 L392.4,151.4 L392.5,150.4 L392.5,149.4 L392.5,148.4 L392.6,147.4 L392.6,146.4 L392.6,145.4 L392.7,144.4 L392.7,143.4 L392.7,142.4 L392.8,141.4 L392.8,140.4 L392.8,139.4 L392.9,138.4 L392.9,137.4 L392.9,136.4 L393.0,135.4 L393.0,134.4 L393.0,133.4 L393.0,132.4 L393.1,131.4 L393.1,130.4 L393.1,129.4 L393.2,128.4 L393.2,127.4 L393.2,126.4 L393.3,125.4 L393.3,124.4 L393.3,123.4 L393.4,122.4 L393.4,121.4 L393.4,120.4 L393.5,119.4 L393.5,118.4 L393.5,117.4 L393.6,116.4 L393.6,115.4 L393.6,114.4 L393.7,113.4 L393.7,112.4 L393.8,111.4 L393.8,110.4 L393.9,109.4 L393.9,108.4 L393.9,107.4 L394.0,106.4 L394.0,105.4 L394.1,104.4 L394.2,103.4 L394.2,102.4 L394.3,101.4 L394.3,100.4 L394.4,99.4 L394.4,98.4 L394.5,97.4 L394.6,96.4 L394.6,95.4 L394.7,94.4 L394.8,93.4 L394.8,92.4 L394.9,91.4 L395.0,90.4 L395.0,89.4 L395.1,88.5 L395.2,87.5 L395.2,86.5 L395.3,85.5 L395.4,84.5 L395.4,83.5 L395.5,82.5 L395.6,81.5 L395.6,80.5 L395.7,79.5 L395.8,78.5 L396.0,77.5 L396.1,76.5 L396.2,75.6 L396.4,74.7 L396.5,73.7 L396.7,72.6 L397.0,71.6 L397.6,72.4 L397.9,73.4 L398.1,74.3 L398.3,75.2 L398.5,76.1 L398.7,77.1 L398.9,78.1 L399.1,79.1 L399.2,80.0 L399.3,81.0 L399.4,82.0 L399.5,83.0 L399.6,84.0 L399.7,85.0 L399.8,86.0 L399.9,87.0 L400.0,88.0 L400.0,89.0 L400.1,90.0 L400.2,91.0 L400.3,92.0 L400.3,93.0 L400.4,94.0 L400.5,95.0 L400.5,96.0 L400.6,97.0 L400.7,98.0 L400.7,99.0 L400.8,100.0 L400.9,101.0 L400.9,102.0 L401.0,103.0 L401.1,104.0 L401.1,105.0 L401.2,106.0 L401.3,107.0 L401.4,108.0 L401.4,109.0 L401.5,110.0 L401.6,110.9 L401.7,111.9 L401.8,112.9 L401.8,113.9 L401.9,114.9 L402.0,115.9 L402.1,116.9 L402.2,117.9 L402.3,118.9 L402.4,119.9 L402.5,120.9 L402.6,121.9 L402.7,122.9 L402.8,123.9 L402.9,124.9 L403.0,125.9 L403.1,126.9 L403.2,127.9 L403.3,128.9 L403.4,129.9 L403.5,130.9 L403.6,131.9 L403.7,132.8 L403.8,133.8 L403.9,134.8 L404.0,135.8 L404.1,136.8 L404.2,137.8 L404.4,138.8 L404.5,139.8 L404.6,140.8 L404.7,141.8 L404.8,142.8 L404.9,143.8 L405.1,144.8 L405.2,145.8 L405.3,146.8 L405.4,147.7 L405.5,148.7 L405.7,149.7 L405.8,150.7 L405.9,151.7 L406.0,152.7 L406.2,153.7 L406.3,154.7 L406.4,155.7 L406.5,156.7 L406.7,157.7 L406.8,158.7 L406.9,159.7 L407.1,160.6 L407.2,161.6 L407.3,162.6 L407.5,163.6 L407.6,164.6 L407.7,165.6 L407.9,166.6 L408.0,167.6 L408.1,168.6 L408.3,169.6 L408.4,170.5 L408.6,171.5 L408.7,172.5 L408.9,173.5 L409.0,174.5 L409.2,175.5 L409.4,176.5 L409.6,177.5 L409.7,178.4 L409.9,179.4 L410.1,180.4 L410.4,181.4 L410.6,182.3 L410.8,183.3 L411.1,184.3 L411.3,185.3 L411.6,186.2 L411.9,187.2 L412.2,188.1 L412.5,189.1 L412.8,190.0 L413.1,191.0 L413.4,191.9 L413.8,192.8 L414.2,193.8 L414.6,194.7 L415.0,195.6 L415.4,196.5 L415.8,197.4 L416.2,198.3 L416.7,199.2 L417.2,200.1 L417.6,201.0 L418.2,201.8 L418.7,202.7 L419.2,203.5 L419.8,204.4 L420.3,205.2 L420.9,206.0 L421.5,206.8 L422.1,207.6 L422.7,208.4 L423.4,209.1 L424.0,209.9 L424.7,210.6 L425.4,211.3 L426.2,211.9 L427.0,212.5 L427.8,213.0 L428.7,213.5 L429.6,214.0 L430.4,214.5 L431.3,214.9 L432.3,215.3 L433.2,215.7 L434.1,216.1 L435.0,216.5 L436.0,216.8 L436.9,217.2 L437.8,217.5 L438.8,217.9 L439.7,218.2 L440.7,218.5 L441.6,218.8 L442.6,219.0 L443.6,219.3 L444.5,219.6 L445.5,219.8 L446.5,220.0 L447.4,220.3 L448.4,220.5 L449.4,220.7 L450.4,220.9 L451.4,221.1 L452.3,221.2 L453.3,221.4 L454.3,221.5 L455.3,221.6 L456.3,221.8 L457.2,221.8 L458.2,221.9 L459.2,222.0" fill="none" stroke="#20208c" stroke-width="1.8" stroke-linejoin="round"/>
<path d="M327.1,223.6 L328.2,223.6 L329.2,223.6 L330.2,223.6 L331.1,223.5 L332.1,223.5 L333.1,223.5 L334.1,223.4 L335.1,223.4 L336.1,223.4 L337.1,223.3 L338.1,223.3 L339.1,223.3 L340.1,223.2 L341.1,223.2 L342.1,223.1 L343.1,223.1 L344.1,223.0 L345.1,222.9 L346.1,222.9 L347.1,222.8 L348.1,222.7 L349.1,222.6 L350.1,222.6 L351.1,222.5 L352.1,222.4 L353.1,222.3 L354.1,222.2 L355.0,222.1 L356.0,221.9 L357.0,221.8 L358.0,221.7 L359.0,221.5 L360.0,221.4 L361.0,221.2 L362.0,221.0 L362.9,220.8 L363.9,220.6 L364.9,220.3 L365.8,220.0 L366.8,219.7 L367.7,219.4 L368.6,219.0 L369.5,218.6 L370.4,218.2 L371.3,217.7 L372.2,217.2 L373.0,216.6 L373.8,216.1 L374.6,215.5 L375.4,214.9 L376.1,214.2 L376.8,213.5 L377.4,212.7 L378.0,211.9 L378.5,211.1 L379.0,210.2 L379.4,209.3 L379.7,208.4 L380.0,207.4 L380.3,206.5 L380.6,205.5 L380.9,204.6 L381.2,203.6 L381.4,202.6 L381.7,201.7 L381.9,200.7 L382.2,199.7 L382.4,198.8 L382.7,197.8 L382.9,196.8 L383.1,195.8 L383.4,194.9 L383.6,193.9 L383.8,192.9 L384.0,191.9 L384.2,191.0 L384.4,190.0 L384.6,189.0 L384.7,188.0 L384.9,187.0 L385.1,186.0 L385.3,185.1 L385.4,184.1 L385.6,183.1 L385.7,182.1 L385.9,181.1 L386.0,180.1 L386.2,179.1 L386.3,178.1 L386.4,177.1 L386.6,176.2 L386.7,175.2 L386.8,174.2 L386.9,173.2 L387.0,172.2 L387.1,171.2 L387.2,170.2 L387.3,169.2 L387.4,168.2 L387.5,167.2 L387.6,166.2 L387.7,165.2 L387.8,164.2 L387.8,163.2 L387.9,162.2 L388.0,161.2 L388.0,160.2 L388.1,159.2 L388.2,158.2 L388.2,157.2 L388.3,156.2 L388.3,155.2 L388.4,154.2 L388.4,153.2 L388.5,152.2 L388.5,151.2 L388.6,150.2 L388.6,149.2 L388.7,148.2 L388.7,147.2 L388.8,146.2 L388.8,145.2 L388.8,144.2 L388.9,143.2 L388.9,142.2 L388.9,141.2 L388.9,140.2 L389.0,139.2 L389.0,138.2 L389.0,137.2 L389.0,136.2 L389.1,135.2 L389.1,134.2 L389.1,133.2 L389.1,132.2 L389.2,131.2 L389.2,130.2 L389.2,129.2 L389.2,128.2 L389.2,127.2 L389.3,126.2 L389.3,125.2 L389.3,124.2 L389.3,123.2 L389.4,122.2 L389.4,121.3 L389.4,120.3 L389.4,119.3 L389.4,118.3 L389.5,117.3 L389.5,116.3 L389.5,115.3 L389.5,114.3 L389.6,113.3 L389.6,112.3 L389.6,111.3 L389.6,110.3 L389.7,109.3 L389.7,108.3 L389.7,107.3 L389.8,106.3 L389.8,105.3 L389.8,104.3 L389.8,103.3 L389.9,102.3 L389.9,101.3 L389.9,100.3 L389.9,99.3 L390.0,98.3 L390.0,97.3 L390.0,96.3 L390.1,95.3 L390.1,94.3 L390.1,93.3 L390.2,92.3 L390.2,91.3 L390.3,90.3 L390.3,89.3 L390.4,88.3 L390.4,87.3 L390.5,86.3 L390.5,85.3 L390.6,84.3 L390.6,83.3 L390.7,82.3 L390.8,81.3 L390.8,80.3 L390.9,79.3 L391.0,78.3 L391.1,77.3 L391.2,76.3 L391.2,75.3 L391.3,74.3 L391.4,73.3 L391.5,72.3 L391.6,71.3 L391.7,70.3 L391.8,69.3 L391.9,68.3 L392.0,67.3 L392.1,66.3 L392.2,65.3 L392.3,64.3 L392.3,63.3 L392.4,62.4 L392.4,61.4 L392.5,60.4 L392.5,59.4 L392.5,58.4 L392.6,57.4 L392.6,56.4 L392.7,55.4 L392.8,54.4 L392.8,53.4 L392.9,52.4 L393.1,51.4 L393.2,50.5 L393.3,49.6 L393.4,48.6 L393.6,47.5 L394.0,46.6 L394.2,47.6 L394.3,48.7 L394.4,49.7 L394.5,50.6 L394.6,51.5 L394.7,52.5 L394.8,53.5 L394.9,54.5 L394.9,55.5 L395.0,56.5 L395.1,57.5 L395.1,58.5 L395.2,59.5 L395.3,60.5 L395.3,61.5 L395.4,62.5 L395.4,63.5 L395.5,64.5 L395.5,65.5 L395.6,66.5 L395.7,67.5 L395.7,68.5 L395.8,69.5 L395.9,70.5 L396.0,71.5 L396.0,72.5 L396.1,73.5 L396.2,74.5 L396.3,75.4 L396.4,76.4 L396.4,77.4 L396.5,78.4 L396.6,79.4 L396.6,80.4 L396.7,81.4 L396.8,82.4 L396.8,83.4 L396.9,84.4 L397.0,85.4 L397.0,86.4 L397.1,87.4 L397.1,88.4 L397.2,89.4 L397.2,90.4 L397.3,91.4 L397.3,92.4 L397.4,93.4 L397.4,94.4 L397.5,95.4 L397.5,96.4 L397.6,97.4 L397.6,98.4 L397.7,99.4 L397.7,100.4 L397.7,101.4 L397.8,102.4 L397.8,103.4 L397.9,104.4 L397.9,105.4 L398.0,106.4 L398.0,107.4 L398.0,108.4 L398.1,109.4 L398.1,110.4 L398.2,111.4 L398.2,112.4 L398.3,113.4 L398.3,114.4 L398.3,115.4 L398.4,116.4 L398.4,117.4 L398.4,118.4 L398.5,119.4 L398.5,120.4 L398.6,121.4 L398.6,122.4 L398.6,123.4 L398.7,124.4 L398.7,125.4 L398.8,126.4 L398.8,127.4 L398.9,128.4 L398.9,129.4 L398.9,130.4 L399.0,131.4 L399.0,132.4 L399.1,133.4 L399.1,134.4 L399.2,135.4 L399.2,136.4 L399.3,137.4 L399.3,138.4 L399.4,139.4 L399.4,140.4 L399.5,141.4 L399.5,142.4 L399.6,143.4 L399.7,144.4 L399.7,145.4 L399.8,146.4 L399.8,147.4 L399.9,148.4 L400.0,149.4 L400.0,150.3 L400.1,151.3 L400.2,152.3 L400.3,153.3 L400.3,154.3 L400.4,155.3 L400.5,156.3 L400.6,157.3 L400.7,158.3 L400.7,159.3 L400.8,160.3 L400.9,161.3 L401.0,162.3 L401.1,163.3 L401.2,164.3 L401.3,165.3 L401.4,166.3 L401.5,167.3 L401.6,168.3 L401.7,169.3 L401.8,170.3 L401.9,171.3 L402.1,172.3 L402.2,173.2 L402.3,174.2 L402.4,175.2 L402.5,176.2 L402.7,177.2 L402.8,178.2 L402.9,179.2 L403.1,180.2 L403.2,181.2 L403.4,182.2 L403.5,183.2 L403.7,184.1 L403.8,185.1 L404.0,186.1 L404.1,187.1 L404.3,188.1 L404.5,189.1 L404.6,190.1 L404.8,191.0 L405.0,192.0 L405.2,193.0 L405.4,194.0 L405.5,195.0 L405.7,196.0 L405.9,196.9 L406.1,197.9 L406.3,198.9 L406.5,199.9 L406.7,200.9 L406.9,201.8 L407.2,202.8 L407.4,203.8 L407.7,204.7 L408.0,205.7 L408.3,206.6 L408.7,207.5 L409.1,208.4 L409.6,209.3 L410.1,210.2 L410.6,211.0 L411.2,211.8 L411.8,212.6 L412.4,213.4 L413.1,214.1 L413.8,214.8 L414.6,215.4 L415.4,216.0 L416.2,216.6 L417.1,217.1 L417.9,217.5 L418.8,218.0 L419.7,218.4 L420.7,218.7 L421.6,219.0 L422.6,219.3 L423.5,219.6 L424.5,219.8 L425.5,220.1 L426.4,220.3 L427.4,220.5 L428.4,220.7 L429.4,220.8 L430.4,221.0 L431.4,221.2 L432.4,221.3 L433.3,221.4 L434.3,221.6 L435.3,221.7 L436.3,221.8 L437.3,221.9 L438.3,222.0 L439.3,222.1 L440.3,222.2 L441.3,222.3 L442.3,222.4 L443.3,222.5 L444.3,222.6 L445.3,222.6 L446.3,222.7 L447.3,222.8 L448.3,222.8 L449.3,222.9 L450.3,222.9 L451.3,223.0 L452.3,223.0 L453.3,223.1 L454.3,223.1 L455.2,223.1 L456.2,223.2 L457.2,223.2 L458.2,223.2 L459.2,223.2" fill="none" stroke="#98040c" stroke-width="1.55" stroke-dasharray="3.7 1.27" stroke-dashoffset="4.78" stroke-linejoin="round"/>
</g>
<g clip-path="url(#c10)">
<path d="M44.3,412.1 L45.4,412.0 L46.4,411.9 L47.3,411.8 L48.3,411.8 L49.3,411.7 L50.3,411.6 L51.3,411.5 L52.3,411.4 L53.3,411.3 L54.3,411.2 L55.2,411.1 L56.2,410.9 L57.2,410.8 L58.2,410.6 L59.2,410.4 L60.1,410.1 L61.1,409.8 L62.0,409.5 L63.0,409.2 L63.9,408.8 L64.8,408.4 L65.7,408.0 L66.6,407.6 L67.6,407.2 L68.5,406.8 L69.4,406.4 L70.3,406.0 L71.2,405.5 L72.0,405.0 L72.9,404.5 L73.7,404.0 L74.5,403.4 L75.2,402.7 L75.9,402.0 L76.5,401.2 L77.1,400.4 L77.6,399.6 L78.1,398.7 L78.6,397.8 L79.0,396.9 L79.4,396.0 L79.8,395.1 L80.2,394.2 L80.6,393.3 L80.9,392.3 L81.2,391.4 L81.5,390.4 L81.8,389.5 L82.1,388.5 L82.3,387.5 L82.6,386.6 L82.8,385.6 L83.1,384.6 L83.3,383.7 L83.6,382.7 L83.8,381.7 L84.0,380.7 L84.2,379.8 L84.4,378.8 L84.6,377.8 L84.8,376.8 L85.0,375.9 L85.2,374.9 L85.4,373.9 L85.6,372.9 L85.7,371.9 L85.9,370.9 L86.1,369.9 L86.2,369.0 L86.4,368.0 L86.5,367.0 L86.7,366.0 L86.8,365.0 L87.0,364.0 L87.1,363.0 L87.2,362.0 L87.3,361.0 L87.5,360.0 L87.6,359.0 L87.7,358.1 L87.8,357.1 L87.9,356.1 L88.0,355.1 L88.1,354.1 L88.2,353.1 L88.3,352.1 L88.4,351.1 L88.5,350.1 L88.6,349.1 L88.7,348.1 L88.7,347.1 L88.8,346.1 L88.9,345.1 L89.0,344.1 L89.1,343.1 L89.2,342.1 L89.2,341.1 L89.3,340.1 L89.4,339.1 L89.5,338.1 L89.5,337.1 L89.6,336.1 L89.7,335.1 L89.8,334.1 L89.8,333.2 L89.9,332.2 L90.0,331.2 L90.1,330.2 L90.1,329.2 L90.2,328.2 L90.3,327.2 L90.4,326.2 L90.5,325.2 L90.5,324.2 L90.6,323.2 L90.7,322.2 L90.8,321.2 L90.9,320.2 L91.0,319.2 L91.1,318.2 L91.2,317.2 L91.3,316.2 L91.4,315.2 L91.5,314.2 L91.6,313.2 L91.7,312.2 L91.8,311.2 L91.9,310.2 L92.0,309.3 L92.2,308.3 L92.3,307.3 L92.4,306.3 L92.5,305.3 L92.7,304.3 L92.8,303.3 L92.9,302.3 L93.0,301.3 L93.1,300.3 L93.2,299.3 L93.4,298.3 L93.5,297.3 L93.6,296.3 L93.7,295.4 L93.8,294.4 L93.9,293.4 L94.0,292.4 L94.1,291.4 L94.2,290.4 L94.3,289.4 L94.5,288.4 L94.6,287.5 L94.7,286.6 L94.9,285.7 L95.0,284.6 L95.2,283.5 L95.8,283.9 L96.1,285.0 L96.3,286.0 L96.6,286.9 L96.9,287.7 L97.3,288.6 L97.7,289.5 L98.1,290.5 L98.4,291.4 L98.7,292.3 L99.0,293.3 L99.3,294.2 L99.5,295.2 L99.7,296.2 L99.9,297.1 L100.1,298.1 L100.3,299.1 L100.4,300.1 L100.6,301.1 L100.7,302.1 L100.9,303.1 L101.0,304.1 L101.2,305.1 L101.3,306.0 L101.4,307.0 L101.5,308.0 L101.7,309.0 L101.8,310.0 L101.9,311.0 L102.0,312.0 L102.1,313.0 L102.2,314.0 L102.3,315.0 L102.4,316.0 L102.5,317.0 L102.6,318.0 L102.7,319.0 L102.8,320.0 L102.8,321.0 L102.9,322.0 L103.0,323.0 L103.1,323.9 L103.2,324.9 L103.2,325.9 L103.3,326.9 L103.4,327.9 L103.5,328.9 L103.5,329.9 L103.6,330.9 L103.7,331.9 L103.8,332.9 L103.8,333.9 L103.9,334.9 L104.0,335.9 L104.0,336.9 L104.1,337.9 L104.2,338.9 L104.3,339.9 L104.3,340.9 L104.4,341.9 L104.5,342.9 L104.6,343.9 L104.6,344.9 L104.7,345.9 L104.8,346.9 L104.9,347.9 L105.0,348.9 L105.0,349.9 L105.1,350.9 L105.2,351.9 L105.3,352.9 L105.4,353.9 L105.5,354.9 L105.6,355.8 L105.7,356.8 L105.8,357.8 L105.9,358.8 L106.0,359.8 L106.2,360.8 L106.3,361.8 L106.4,362.8 L106.5,363.8 L106.7,364.8 L106.8,365.8 L107.0,366.8 L107.1,367.8 L107.3,368.7 L107.4,369.7 L107.6,370.7 L107.7,371.7 L107.9,372.7 L108.1,373.7 L108.3,374.7 L108.5,375.6 L108.7,376.6 L108.9,377.6 L109.1,378.6 L109.3,379.5 L109.6,380.5 L109.8,381.5 L110.1,382.4 L110.4,383.4 L110.6,384.4 L110.9,385.3 L111.2,386.3 L111.6,387.2 L111.9,388.2 L112.3,389.1 L112.6,390.0 L113.0,390.9 L113.4,391.9 L113.8,392.8 L114.2,393.7 L114.6,394.6 L115.1,395.5 L115.5,396.4 L116.0,397.3 L116.5,398.1 L117.0,399.0 L117.5,399.8 L118.1,400.7 L118.7,401.5 L119.2,402.3 L119.9,403.1 L120.5,403.8 L121.2,404.5 L121.9,405.2 L122.7,405.8 L123.5,406.3 L124.4,406.8 L125.3,407.3 L126.2,407.7 L127.1,408.1 L128.0,408.5 L128.9,408.9 L129.8,409.2 L130.8,409.6 L131.7,409.9 L132.7,410.2 L133.6,410.5 L134.6,410.7 L135.6,411.0 L136.5,411.1 L137.5,411.3 L138.5,411.4 L139.5,411.6 L140.5,411.7 L141.5,411.7 L142.5,411.8 L143.5,411.8 L144.5,411.9 L145.5,411.9 L146.5,411.9 L147.5,411.9 L148.5,411.9 L149.5,412.0 L150.5,412.0 L151.5,412.0 L152.5,412.0 L153.5,412.0 L154.5,412.0 L155.5,412.0 L156.5,412.0 L157.5,412.0 L158.5,412.0 L159.5,412.0 L160.5,412.1 L161.5,412.1 L162.5,412.1 L163.5,412.1 L164.5,412.1 L165.5,412.1 L166.5,412.1 L167.5,412.1 L168.5,412.1 L169.5,412.1 L170.5,412.1 L171.5,412.1 L172.5,412.1 L173.4,412.1 L174.4,412.1 L175.4,412.1 L176.5,412.1" fill="none" stroke="#20208c" stroke-width="1.8" stroke-linejoin="round"/>
<path d="M44.3,412.1 L45.4,412.0 L46.4,412.0 L47.4,411.9 L48.3,411.9 L49.3,411.8 L50.3,411.7 L51.3,411.6 L52.3,411.5 L53.3,411.4 L54.3,411.4 L55.3,411.3 L56.3,411.1 L57.3,411.0 L58.2,410.9 L59.2,410.7 L60.2,410.6 L61.2,410.4 L62.2,410.2 L63.1,409.9 L64.1,409.6 L65.0,409.3 L65.9,408.9 L66.8,408.4 L67.7,408.0 L68.5,407.4 L69.3,406.9 L70.1,406.2 L70.8,405.5 L71.5,404.8 L72.1,404.1 L72.7,403.3 L73.2,402.4 L73.8,401.6 L74.2,400.7 L74.7,399.8 L75.1,398.9 L75.5,398.0 L75.9,397.1 L76.2,396.1 L76.5,395.2 L76.8,394.2 L77.1,393.3 L77.3,392.3 L77.5,391.3 L77.8,390.4 L78.0,389.4 L78.2,388.4 L78.4,387.4 L78.7,386.5 L78.9,385.5 L79.1,384.5 L79.3,383.5 L79.5,382.6 L79.7,381.6 L79.9,380.6 L80.1,379.6 L80.3,378.6 L80.4,377.6 L80.6,376.7 L80.8,375.7 L81.0,374.7 L81.1,373.7 L81.3,372.7 L81.5,371.7 L81.6,370.7 L81.8,369.8 L81.9,368.8 L82.1,367.8 L82.2,366.8 L82.4,365.8 L82.5,364.8 L82.6,363.8 L82.8,362.8 L82.9,361.8 L83.0,360.8 L83.1,359.9 L83.3,358.9 L83.4,357.9 L83.5,356.9 L83.6,355.9 L83.7,354.9 L83.8,353.9 L84.0,352.9 L84.1,351.9 L84.2,350.9 L84.3,349.9 L84.4,348.9 L84.5,347.9 L84.6,346.9 L84.7,345.9 L84.8,344.9 L84.8,343.9 L84.9,343.0 L85.0,342.0 L85.1,341.0 L85.2,340.0 L85.3,339.0 L85.4,338.0 L85.5,337.0 L85.5,336.0 L85.6,335.0 L85.7,334.0 L85.8,333.0 L85.9,332.0 L85.9,331.0 L86.0,330.0 L86.1,329.0 L86.2,328.0 L86.2,327.0 L86.3,326.0 L86.4,325.0 L86.5,324.0 L86.5,323.0 L86.6,322.0 L86.7,321.0 L86.8,320.0 L86.8,319.0 L86.9,318.0 L87.0,317.0 L87.1,316.0 L87.1,315.0 L87.2,314.0 L87.3,313.0 L87.4,312.1 L87.5,311.1 L87.5,310.1 L87.6,309.1 L87.7,308.1 L87.8,307.1 L87.9,306.1 L87.9,305.1 L88.0,304.1 L88.1,303.1 L88.2,302.1 L88.3,301.1 L88.4,300.1 L88.5,299.1 L88.6,298.1 L88.6,297.1 L88.7,296.1 L88.8,295.1 L88.9,294.1 L89.0,293.1 L89.1,292.1 L89.2,291.1 L89.4,290.1 L89.5,289.1 L89.6,288.2 L89.7,287.2 L89.8,286.2 L89.9,285.2 L90.0,284.2 L90.1,283.2 L90.2,282.2 L90.3,281.2 L90.5,280.2 L90.6,279.2 L90.7,278.2 L90.8,277.2 L90.9,276.2 L91.0,275.2 L91.2,274.2 L91.3,273.3 L91.4,272.3 L91.5,271.3 L91.7,270.4 L91.8,269.5 L91.9,268.4 L92.2,267.3 L92.6,268.1 L92.8,269.2 L93.0,270.2 L93.1,271.1 L93.3,272.0 L93.5,272.9 L93.6,273.9 L93.8,274.9 L94.0,275.9 L94.1,276.9 L94.3,277.9 L94.5,278.8 L94.6,279.8 L94.8,280.8 L94.9,281.8 L95.1,282.8 L95.3,283.8 L95.4,284.8 L95.6,285.8 L95.7,286.7 L95.9,287.7 L96.1,288.7 L96.2,289.7 L96.4,290.7 L96.5,291.7 L96.7,292.7 L96.8,293.7 L97.0,294.7 L97.1,295.6 L97.3,296.6 L97.4,297.6 L97.5,298.6 L97.6,299.6 L97.8,300.6 L97.9,301.6 L98.0,302.6 L98.1,303.6 L98.2,304.6 L98.4,305.6 L98.5,306.6 L98.6,307.5 L98.7,308.5 L98.8,309.5 L98.9,310.5 L99.0,311.5 L99.1,312.5 L99.2,313.5 L99.3,314.5 L99.4,315.5 L99.5,316.5 L99.6,317.5 L99.6,318.5 L99.7,319.5 L99.8,320.5 L99.9,321.5 L100.0,322.5 L100.1,323.5 L100.2,324.5 L100.2,325.5 L100.3,326.5 L100.4,327.5 L100.5,328.5 L100.6,329.5 L100.6,330.5 L100.7,331.5 L100.8,332.4 L100.9,333.4 L101.0,334.4 L101.1,335.4 L101.1,336.4 L101.2,337.4 L101.3,338.4 L101.4,339.4 L101.5,340.4 L101.6,341.4 L101.6,342.4 L101.7,343.4 L101.8,344.4 L101.9,345.4 L102.0,346.4 L102.1,347.4 L102.2,348.4 L102.3,349.4 L102.4,350.4 L102.5,351.4 L102.6,352.4 L102.7,353.4 L102.8,354.4 L102.9,355.4 L103.0,356.4 L103.1,357.3 L103.2,358.3 L103.3,359.3 L103.4,360.3 L103.5,361.3 L103.7,362.3 L103.8,363.3 L103.9,364.3 L104.0,365.3 L104.2,366.3 L104.3,367.3 L104.5,368.3 L104.6,369.2 L104.7,370.2 L104.9,371.2 L105.0,372.2 L105.2,373.2 L105.4,374.2 L105.5,375.2 L105.7,376.2 L105.9,377.1 L106.0,378.1 L106.2,379.1 L106.4,380.1 L106.6,381.1 L106.8,382.1 L107.0,383.0 L107.2,384.0 L107.4,385.0 L107.6,386.0 L107.8,387.0 L108.0,387.9 L108.2,388.9 L108.5,389.9 L108.7,390.9 L108.9,391.8 L109.2,392.8 L109.5,393.8 L109.7,394.7 L110.1,395.6 L110.4,396.6 L110.8,397.5 L111.3,398.4 L111.7,399.3 L112.2,400.1 L112.8,401.0 L113.3,401.8 L113.9,402.6 L114.6,403.3 L115.2,404.1 L115.9,404.8 L116.7,405.5 L117.4,406.1 L118.2,406.7 L119.0,407.3 L119.8,407.9 L120.6,408.5 L121.5,409.0 L122.3,409.5 L123.2,409.9 L124.1,410.3 L125.0,410.7 L126.0,410.9 L126.9,411.2 L127.9,411.3 L128.9,411.5 L129.9,411.6 L130.9,411.7 L131.9,411.7 L132.9,411.8 L133.9,411.8 L134.9,411.8 L135.9,411.9 L136.9,411.9 L137.9,411.9 L138.9,411.9 L139.9,411.9 L140.9,411.9 L141.9,411.9 L142.9,412.0 L143.9,412.0 L144.9,412.0 L145.9,412.0 L146.9,412.0 L147.9,412.0 L148.9,412.0 L149.9,412.0 L150.9,412.0 L151.9,412.0 L152.9,412.0 L153.9,412.0 L154.9,412.0 L155.9,412.1 L156.9,412.1 L157.9,412.1 L158.9,412.1 L159.9,412.1 L160.9,412.1 L161.9,412.1 L162.9,412.1 L163.9,412.1 L164.9,412.1 L165.9,412.1 L166.9,412.1 L167.9,412.1 L168.9,412.1 L169.9,412.1 L170.9,412.1 L171.9,412.1 L172.8,412.1 L173.8,412.1 L174.8,412.1 L175.8,412.1" fill="none" stroke="#98040c" stroke-width="1.55" stroke-dasharray="3.7 1.27" stroke-dashoffset="2.02" stroke-linejoin="round"/>
</g>
<g clip-path="url(#c11)">
<path d="M185.7,412.1 L186.7,412.0 L187.7,411.8 L188.7,411.7 L189.7,411.6 L190.6,411.5 L191.6,411.4 L192.6,411.3 L193.6,411.1 L194.6,411.0 L195.6,410.9 L196.6,410.8 L197.5,410.6 L198.5,410.4 L199.5,410.2 L200.5,409.9 L201.4,409.7 L202.4,409.3 L203.3,409.0 L204.2,408.6 L205.1,408.1 L206.0,407.7 L206.9,407.2 L207.7,406.7 L208.6,406.2 L209.4,405.7 L210.3,405.2 L211.1,404.6 L211.9,404.1 L212.7,403.5 L213.4,402.8 L214.1,402.1 L214.7,401.3 L215.3,400.5 L215.7,399.7 L216.2,398.8 L216.6,397.9 L217.0,396.9 L217.3,396.0 L217.6,395.1 L217.9,394.1 L218.2,393.2 L218.5,392.2 L218.8,391.2 L219.0,390.3 L219.3,389.3 L219.6,388.3 L219.8,387.4 L220.1,386.4 L220.3,385.4 L220.5,384.5 L220.8,383.5 L221.0,382.5 L221.2,381.5 L221.5,380.6 L221.7,379.6 L221.9,378.6 L222.1,377.6 L222.3,376.7 L222.6,375.7 L222.8,374.7 L223.0,373.7 L223.2,372.8 L223.4,371.8 L223.6,370.8 L223.8,369.8 L223.9,368.8 L224.1,367.8 L224.3,366.9 L224.5,365.9 L224.7,364.9 L224.9,363.9 L225.0,362.9 L225.2,361.9 L225.4,361.0 L225.6,360.0 L225.7,359.0 L225.9,358.0 L226.0,357.0 L226.2,356.0 L226.4,355.0 L226.5,354.1 L226.7,353.1 L226.8,352.1 L227.0,351.1 L227.1,350.1 L227.3,349.1 L227.4,348.1 L227.6,347.1 L227.7,346.1 L227.9,345.2 L228.0,344.2 L228.2,343.2 L228.3,342.2 L228.5,341.2 L228.6,340.2 L228.8,339.2 L228.9,338.2 L229.0,337.2 L229.2,336.3 L229.3,335.3 L229.5,334.3 L229.6,333.3 L229.8,332.3 L229.9,331.3 L230.0,330.3 L230.2,329.3 L230.3,328.3 L230.5,327.3 L230.6,326.4 L230.8,325.4 L230.9,324.4 L231.1,323.4 L231.3,322.4 L231.4,321.4 L231.6,320.4 L231.7,319.4 L231.9,318.5 L232.1,317.5 L232.2,316.5 L232.4,315.5 L232.6,314.5 L232.8,313.6 L233.0,312.6 L233.2,311.7 L233.3,310.7 L233.5,309.6 L234.4,309.4 L235.4,309.6 L236.2,310.0 L236.8,310.7 L237.3,311.4 L237.7,312.2 L238.2,313.0 L238.5,313.9 L238.9,314.9 L239.2,315.8 L239.5,316.8 L239.7,317.7 L240.0,318.7 L240.2,319.7 L240.5,320.6 L240.7,321.6 L240.9,322.6 L241.1,323.6 L241.4,324.5 L241.6,325.5 L241.8,326.5 L242.0,327.5 L242.2,328.5 L242.4,329.4 L242.6,330.4 L242.7,331.4 L242.9,332.4 L243.1,333.4 L243.3,334.3 L243.5,335.3 L243.6,336.3 L243.8,337.3 L244.0,338.3 L244.1,339.3 L244.3,340.3 L244.4,341.3 L244.6,342.2 L244.8,343.2 L244.9,344.2 L245.1,345.2 L245.2,346.2 L245.4,347.2 L245.5,348.2 L245.7,349.2 L245.9,350.1 L246.0,351.1 L246.2,352.1 L246.3,353.1 L246.5,354.1 L246.7,355.1 L246.8,356.1 L247.0,357.0 L247.2,358.0 L247.4,359.0 L247.5,360.0 L247.7,361.0 L247.9,362.0 L248.1,362.9 L248.3,363.9 L248.5,364.9 L248.7,365.9 L248.9,366.9 L249.1,367.8 L249.3,368.8 L249.6,369.8 L249.8,370.8 L250.0,371.7 L250.3,372.7 L250.5,373.7 L250.8,374.6 L251.1,375.6 L251.3,376.6 L251.6,377.5 L251.9,378.5 L252.2,379.4 L252.5,380.4 L252.8,381.3 L253.1,382.3 L253.4,383.2 L253.8,384.2 L254.1,385.1 L254.4,386.1 L254.8,387.0 L255.1,387.9 L255.5,388.9 L255.9,389.8 L256.3,390.7 L256.7,391.6 L257.2,392.5 L257.7,393.4 L258.2,394.2 L258.7,395.1 L259.3,395.9 L259.8,396.7 L260.4,397.5 L261.0,398.3 L261.7,399.1 L262.3,399.8 L263.0,400.6 L263.6,401.3 L264.3,402.1 L265.0,402.8 L265.7,403.4 L266.5,404.1 L267.3,404.7 L268.1,405.3 L268.9,405.8 L269.8,406.3 L270.7,406.7 L271.5,407.2 L272.4,407.6 L273.3,408.1 L274.1,408.6 L275.0,409.2 L275.8,409.7 L276.7,410.1 L277.6,410.6 L278.5,410.9 L279.4,411.2 L280.4,411.3 L281.3,411.5 L282.3,411.6 L283.3,411.6 L284.3,411.7 L285.3,411.7 L286.3,411.7 L287.3,411.8 L288.3,411.8 L289.3,411.8 L290.3,411.8 L291.3,411.9 L292.3,411.9 L293.3,411.9 L294.3,411.9 L295.3,411.9 L296.3,412.0 L297.3,412.0 L298.3,412.0 L299.3,412.0 L300.3,412.0 L301.3,412.0 L302.3,412.0 L303.3,412.0 L304.3,412.1 L305.3,412.1 L306.3,412.1 L307.3,412.1 L308.3,412.1 L309.3,412.1 L310.3,412.1 L311.3,412.1 L312.3,412.1 L313.3,412.1 L314.3,412.1 L315.2,412.1 L316.2,412.1 L317.3,412.1" fill="none" stroke="#20208c" stroke-width="1.8" stroke-linejoin="round"/>
<path d="M185.7,412.1 L186.7,412.1 L187.7,412.0 L188.7,412.0 L189.7,411.9 L190.7,411.9 L191.6,411.8 L192.6,411.7 L193.6,411.6 L194.6,411.6 L195.6,411.5 L196.6,411.4 L197.6,411.2 L198.6,411.1 L199.6,411.0 L200.6,410.8 L201.6,410.6 L202.5,410.4 L203.5,410.1 L204.4,409.8 L205.4,409.5 L206.3,409.1 L207.1,408.6 L208.0,408.1 L208.8,407.6 L209.6,407.0 L210.4,406.4 L211.1,405.7 L211.8,405.0 L212.5,404.2 L213.1,403.5 L213.7,402.6 L214.2,401.8 L214.7,400.9 L215.1,400.1 L215.6,399.2 L216.0,398.3 L216.4,397.3 L216.7,396.4 L217.1,395.5 L217.4,394.5 L217.7,393.6 L218.0,392.6 L218.3,391.7 L218.6,390.7 L218.8,389.7 L219.1,388.8 L219.3,387.8 L219.5,386.8 L219.7,385.8 L220.0,384.9 L220.2,383.9 L220.4,382.9 L220.6,381.9 L220.8,381.0 L221.0,380.0 L221.2,379.0 L221.4,378.0 L221.6,377.0 L221.8,376.1 L222.0,375.1 L222.2,374.1 L222.3,373.1 L222.5,372.1 L222.7,371.1 L222.9,370.2 L223.0,369.2 L223.2,368.2 L223.3,367.2 L223.5,366.2 L223.6,365.2 L223.8,364.2 L223.9,363.2 L224.1,362.2 L224.2,361.3 L224.3,360.3 L224.5,359.3 L224.6,358.3 L224.7,357.3 L224.9,356.3 L225.0,355.3 L225.1,354.3 L225.2,353.3 L225.3,352.3 L225.4,351.3 L225.6,350.3 L225.7,349.3 L225.8,348.4 L225.9,347.4 L226.0,346.4 L226.1,345.4 L226.2,344.4 L226.3,343.4 L226.4,342.4 L226.5,341.4 L226.6,340.4 L226.7,339.4 L226.8,338.4 L226.9,337.4 L226.9,336.4 L227.0,335.4 L227.1,334.4 L227.2,333.4 L227.3,332.4 L227.4,331.4 L227.5,330.4 L227.6,329.4 L227.6,328.4 L227.7,327.4 L227.8,326.4 L227.9,325.5 L228.0,324.5 L228.1,323.5 L228.1,322.5 L228.2,321.5 L228.3,320.5 L228.4,319.5 L228.5,318.5 L228.6,317.5 L228.7,316.5 L228.7,315.5 L228.8,314.5 L228.9,313.5 L229.0,312.5 L229.1,311.5 L229.2,310.5 L229.3,309.5 L229.4,308.5 L229.5,307.5 L229.6,306.5 L229.6,305.5 L229.7,304.5 L229.8,303.5 L229.9,302.5 L230.0,301.5 L230.1,300.6 L230.3,299.6 L230.4,298.6 L230.5,297.6 L230.6,296.6 L230.7,295.6 L230.8,294.6 L230.9,293.6 L231.0,292.6 L231.1,291.6 L231.2,290.6 L231.3,289.6 L231.4,288.6 L231.5,287.6 L231.5,286.6 L231.6,285.6 L231.7,284.6 L231.8,283.6 L231.9,282.6 L232.0,281.6 L232.1,280.6 L232.2,279.7 L232.3,278.7 L232.4,277.7 L232.5,276.7 L232.6,275.7 L232.8,274.7 L233.0,273.7 L233.1,272.8 L233.3,271.8 L233.5,270.9 L233.7,270.0 L233.9,268.9 L234.4,268.2 L234.9,269.1 L235.1,270.2 L235.4,271.1 L235.6,272.0 L235.8,273.0 L236.0,273.9 L236.2,274.9 L236.3,275.9 L236.5,276.9 L236.6,277.9 L236.7,278.8 L236.9,279.8 L237.0,280.8 L237.1,281.8 L237.2,282.8 L237.3,283.8 L237.3,284.8 L237.4,285.8 L237.5,286.8 L237.6,287.8 L237.7,288.8 L237.8,289.8 L237.9,290.8 L238.0,291.8 L238.2,292.8 L238.3,293.8 L238.4,294.8 L238.6,295.7 L238.7,296.7 L238.9,297.7 L239.0,298.7 L239.2,299.7 L239.3,300.7 L239.5,301.7 L239.6,302.7 L239.7,303.7 L239.9,304.6 L240.0,305.6 L240.1,306.6 L240.2,307.6 L240.3,308.6 L240.5,309.6 L240.6,310.6 L240.7,311.6 L240.8,312.6 L240.9,313.6 L241.0,314.6 L241.1,315.6 L241.2,316.6 L241.3,317.6 L241.3,318.6 L241.4,319.6 L241.5,320.6 L241.6,321.6 L241.7,322.6 L241.8,323.5 L241.9,324.5 L241.9,325.5 L242.0,326.5 L242.1,327.5 L242.2,328.5 L242.3,329.5 L242.3,330.5 L242.4,331.5 L242.5,332.5 L242.6,333.5 L242.6,334.5 L242.7,335.5 L242.8,336.5 L242.8,337.5 L242.9,338.5 L243.0,339.5 L243.1,340.5 L243.1,341.5 L243.2,342.5 L243.3,343.5 L243.4,344.5 L243.4,345.5 L243.5,346.5 L243.6,347.5 L243.7,348.5 L243.8,349.5 L243.8,350.5 L243.9,351.5 L244.0,352.5 L244.1,353.5 L244.2,354.5 L244.3,355.5 L244.3,356.4 L244.4,357.4 L244.5,358.4 L244.6,359.4 L244.7,360.4 L244.8,361.4 L244.9,362.4 L245.0,363.4 L245.1,364.4 L245.2,365.4 L245.3,366.4 L245.5,367.4 L245.6,368.4 L245.7,369.4 L245.8,370.4 L245.9,371.4 L246.1,372.4 L246.2,373.3 L246.3,374.3 L246.5,375.3 L246.6,376.3 L246.8,377.3 L246.9,378.3 L247.1,379.3 L247.2,380.3 L247.4,381.3 L247.6,382.2 L247.7,383.2 L247.9,384.2 L248.1,385.2 L248.3,386.2 L248.5,387.2 L248.7,388.1 L248.8,389.1 L249.1,390.1 L249.3,391.1 L249.5,392.0 L249.8,393.0 L250.0,394.0 L250.3,394.9 L250.7,395.9 L251.0,396.8 L251.4,397.7 L251.7,398.7 L252.1,399.6 L252.6,400.5 L253.0,401.4 L253.5,402.2 L254.0,403.1 L254.6,403.9 L255.2,404.7 L255.8,405.5 L256.5,406.2 L257.2,406.9 L258.0,407.5 L258.7,408.1 L259.6,408.6 L260.4,409.1 L261.3,409.5 L262.2,409.9 L263.2,410.3 L264.1,410.6 L265.1,410.8 L266.1,411.0 L267.0,411.2 L268.0,411.3 L269.0,411.4 L270.0,411.5 L271.0,411.6 L272.0,411.7 L273.0,411.8 L274.0,411.8 L275.0,411.8 L276.0,411.9 L277.0,411.9 L278.0,411.9 L279.0,411.9 L280.0,411.9 L281.0,411.9 L282.0,411.9 L283.0,412.0 L284.0,412.0 L285.0,412.0 L286.0,412.0 L287.0,412.0 L288.0,412.0 L289.0,412.0 L290.0,412.0 L291.0,412.0 L292.0,412.0 L293.0,412.0 L294.0,412.0 L295.0,412.0 L296.0,412.0 L297.0,412.1 L298.0,412.1 L299.0,412.1 L300.0,412.1 L301.0,412.1 L302.0,412.1 L303.0,412.1 L304.0,412.1 L305.0,412.1 L306.0,412.1 L307.0,412.1 L308.0,412.1 L309.0,412.1 L310.0,412.1 L311.0,412.1 L312.0,412.1 L313.0,412.1 L314.0,412.1 L314.9,412.1 L315.9,412.1 L316.9,412.1 L318.0,412.1" fill="none" stroke="#98040c" stroke-width="1.55" stroke-dasharray="3.7 1.27" stroke-dashoffset="3.19" stroke-linejoin="round"/>
</g>
<g clip-path="url(#c12)">
<path d="M327.1,412.1 L328.2,412.1 L329.2,412.1 L330.2,412.1 L331.1,412.1 L332.1,412.1 L333.1,412.1 L334.1,412.1 L335.1,412.1 L336.1,412.1 L337.1,412.1 L338.1,412.1 L339.1,412.1 L340.1,412.1 L341.1,412.1 L342.1,412.1 L343.1,412.1 L344.1,412.1 L345.1,412.1 L346.1,412.1 L347.1,412.1 L348.1,412.1 L349.1,412.0 L350.1,412.0 L351.1,412.0 L352.1,411.9 L353.1,411.8 L354.0,411.7 L355.0,411.5 L356.0,411.2 L357.0,411.0 L357.9,410.7 L358.9,410.4 L359.8,410.1 L360.8,409.8 L361.7,409.4 L362.6,409.0 L363.5,408.6 L364.4,408.2 L365.3,407.7 L366.1,407.2 L367.0,406.7 L367.9,406.2 L368.7,405.6 L369.6,405.1 L370.4,404.6 L371.2,404.0 L372.0,403.4 L372.8,402.8 L373.5,402.1 L374.2,401.4 L374.9,400.7 L375.5,399.9 L376.1,399.1 L376.6,398.3 L377.1,397.4 L377.6,396.5 L378.1,395.7 L378.5,394.8 L378.9,393.8 L379.2,392.9 L379.6,392.0 L379.9,391.0 L380.2,390.1 L380.5,389.1 L380.7,388.2 L381.0,387.2 L381.3,386.2 L381.5,385.3 L381.8,384.3 L382.0,383.3 L382.3,382.4 L382.5,381.4 L382.8,380.4 L383.0,379.4 L383.2,378.5 L383.4,377.5 L383.7,376.5 L383.9,375.5 L384.1,374.6 L384.3,373.6 L384.5,372.6 L384.6,371.6 L384.8,370.6 L385.0,369.6 L385.2,368.7 L385.4,367.7 L385.5,366.7 L385.7,365.7 L385.9,364.7 L386.0,363.7 L386.2,362.7 L386.3,361.8 L386.5,360.8 L386.6,359.8 L386.7,358.8 L386.9,357.8 L387.0,356.8 L387.1,355.8 L387.2,354.8 L387.4,353.8 L387.5,352.8 L387.6,351.8 L387.7,350.8 L387.8,349.9 L387.9,348.9 L388.0,347.9 L388.1,346.9 L388.2,345.9 L388.3,344.9 L388.4,343.9 L388.5,342.9 L388.6,341.9 L388.6,340.9 L388.7,339.9 L388.8,338.9 L388.9,337.9 L389.0,336.9 L389.0,335.9 L389.1,334.9 L389.2,333.9 L389.3,332.9 L389.3,331.9 L389.4,330.9 L389.5,329.9 L389.5,328.9 L389.6,327.9 L389.7,326.9 L389.7,325.9 L389.8,324.9 L389.8,323.9 L389.9,322.9 L390.0,321.9 L390.0,320.9 L390.1,319.9 L390.1,318.9 L390.2,317.9 L390.3,316.9 L390.3,315.9 L390.4,314.9 L390.4,314.0 L390.5,313.0 L390.6,312.0 L390.6,311.0 L390.7,310.0 L390.8,309.0 L390.8,308.0 L390.9,307.0 L391.0,306.0 L391.0,305.0 L391.1,304.0 L391.2,303.0 L391.2,302.0 L391.3,301.0 L391.4,300.0 L391.5,299.0 L391.5,298.0 L391.6,297.0 L391.7,296.0 L391.8,295.0 L391.9,294.0 L391.9,293.0 L392.0,292.0 L392.1,291.0 L392.2,290.0 L392.3,289.0 L392.4,288.0 L392.5,287.0 L392.6,286.0 L392.7,285.0 L392.8,284.0 L392.9,283.1 L393.0,282.1 L393.0,281.1 L393.1,280.1 L393.1,279.1 L393.2,278.1 L393.2,277.1 L393.3,276.1 L393.3,275.1 L393.4,274.1 L393.5,273.1 L393.5,272.1 L393.6,271.1 L393.7,270.1 L393.8,269.1 L393.9,268.1 L394.1,267.1 L394.3,266.2 L394.5,265.3 L394.7,264.4 L394.9,263.5 L395.3,262.4 L395.9,261.7 L396.1,262.8 L396.2,263.9 L396.3,264.8 L396.4,265.8 L396.5,266.7 L396.6,267.7 L396.7,268.7 L396.8,269.7 L396.8,270.7 L396.9,271.7 L397.0,272.7 L397.1,273.7 L397.2,274.6 L397.3,275.6 L397.4,276.6 L397.6,277.6 L397.7,278.6 L397.8,279.6 L397.9,280.6 L398.0,281.6 L398.2,282.6 L398.3,283.6 L398.4,284.6 L398.5,285.6 L398.6,286.6 L398.7,287.6 L398.7,288.6 L398.8,289.6 L398.9,290.6 L399.0,291.6 L399.1,292.5 L399.2,293.5 L399.2,294.5 L399.3,295.5 L399.4,296.5 L399.4,297.5 L399.5,298.5 L399.6,299.5 L399.6,300.5 L399.7,301.5 L399.8,302.5 L399.8,303.5 L399.9,304.5 L399.9,305.5 L400.0,306.5 L400.1,307.5 L400.1,308.5 L400.2,309.5 L400.2,310.5 L400.3,311.5 L400.3,312.5 L400.4,313.5 L400.4,314.5 L400.5,315.5 L400.6,316.5 L400.6,317.5 L400.7,318.5 L400.7,319.5 L400.8,320.5 L400.8,321.5 L400.9,322.5 L401.0,323.5 L401.0,324.5 L401.1,325.5 L401.2,326.5 L401.2,327.5 L401.3,328.5 L401.3,329.5 L401.4,330.5 L401.5,331.5 L401.6,332.5 L401.6,333.5 L401.7,334.5 L401.8,335.5 L401.9,336.5 L402.0,337.5 L402.0,338.5 L402.1,339.4 L402.2,340.4 L402.3,341.4 L402.4,342.4 L402.5,343.4 L402.6,344.4 L402.7,345.4 L402.9,346.4 L403.0,347.4 L403.1,348.4 L403.2,349.4 L403.3,350.4 L403.5,351.4 L403.6,352.4 L403.8,353.4 L403.9,354.3 L404.1,355.3 L404.2,356.3 L404.4,357.3 L404.5,358.3 L404.7,359.3 L404.9,360.3 L405.1,361.2 L405.2,362.2 L405.4,363.2 L405.6,364.2 L405.8,365.2 L406.0,366.1 L406.2,367.1 L406.5,368.1 L406.7,369.1 L406.9,370.0 L407.1,371.0 L407.4,372.0 L407.6,373.0 L407.9,373.9 L408.1,374.9 L408.4,375.9 L408.7,376.8 L408.9,377.8 L409.2,378.7 L409.5,379.7 L409.8,380.7 L410.1,381.6 L410.4,382.6 L410.7,383.5 L411.1,384.5 L411.4,385.4 L411.7,386.3 L412.1,387.3 L412.4,388.2 L412.7,389.2 L413.1,390.1 L413.5,391.0 L413.8,392.0 L414.2,392.9 L414.6,393.8 L415.1,394.7 L415.6,395.5 L416.1,396.4 L416.6,397.2 L417.2,398.0 L417.8,398.8 L418.5,399.6 L419.1,400.3 L419.8,401.1 L420.5,401.8 L421.2,402.5 L421.9,403.2 L422.6,403.9 L423.4,404.5 L424.1,405.2 L424.9,405.8 L425.7,406.4 L426.5,407.0 L427.3,407.6 L428.2,408.1 L429.1,408.6 L429.9,409.0 L430.8,409.4 L431.8,409.8 L432.7,410.2 L433.6,410.5 L434.6,410.8 L435.6,411.0 L436.5,411.2 L437.5,411.4 L438.5,411.5 L439.5,411.6 L440.5,411.7 L441.5,411.8 L442.5,411.8 L443.5,411.9 L444.5,411.9 L445.5,411.9 L446.5,411.9 L447.5,412.0 L448.5,412.0 L449.5,412.0 L450.5,412.0 L451.5,412.0 L452.5,412.1 L453.5,412.1 L454.5,412.1 L455.4,412.1 L456.4,412.1 L457.4,412.1 L458.4,412.1 L459.5,412.1" fill="none" stroke="#20208c" stroke-width="1.8" stroke-linejoin="round"/>
<path d="M327.1,412.1 L328.2,412.1 L329.2,412.1 L330.2,412.1 L331.1,412.1 L332.1,412.1 L333.1,412.1 L334.1,412.1 L335.1,412.1 L336.1,412.0 L337.1,412.0 L338.1,412.0 L339.1,412.0 L340.1,412.0 L341.1,412.0 L342.1,412.0 L343.1,411.9 L344.1,411.9 L345.1,411.9 L346.1,411.9 L347.1,411.8 L348.1,411.8 L349.1,411.8 L350.1,411.7 L351.1,411.7 L352.1,411.7 L353.1,411.6 L354.1,411.6 L355.1,411.5 L356.1,411.5 L357.1,411.4 L358.1,411.2 L359.0,411.1 L360.0,410.9 L361.0,410.7 L362.0,410.4 L362.9,410.1 L363.8,409.8 L364.8,409.4 L365.7,409.0 L366.6,408.5 L367.4,408.0 L368.3,407.5 L369.1,407.0 L369.9,406.4 L370.7,405.8 L371.5,405.1 L372.2,404.5 L372.9,403.8 L373.5,403.0 L374.2,402.2 L374.7,401.4 L375.3,400.6 L375.8,399.7 L376.3,398.9 L376.7,398.0 L377.2,397.1 L377.6,396.2 L378.0,395.3 L378.3,394.3 L378.7,393.4 L379.0,392.4 L379.3,391.5 L379.6,390.5 L379.9,389.6 L380.1,388.6 L380.4,387.6 L380.6,386.7 L380.8,385.7 L381.0,384.7 L381.2,383.7 L381.4,382.8 L381.6,381.8 L381.8,380.8 L382.0,379.8 L382.2,378.8 L382.4,377.9 L382.6,376.9 L382.8,375.9 L382.9,374.9 L383.1,373.9 L383.3,372.9 L383.4,371.9 L383.6,371.0 L383.7,370.0 L383.9,369.0 L384.0,368.0 L384.2,367.0 L384.3,366.0 L384.5,365.0 L384.6,364.0 L384.7,363.0 L384.8,362.0 L385.0,361.1 L385.1,360.1 L385.2,359.1 L385.3,358.1 L385.4,357.1 L385.5,356.1 L385.6,355.1 L385.7,354.1 L385.8,353.1 L385.9,352.1 L386.0,351.1 L386.1,350.1 L386.2,349.1 L386.3,348.1 L386.3,347.1 L386.4,346.1 L386.5,345.1 L386.6,344.1 L386.6,343.1 L386.7,342.1 L386.8,341.1 L386.8,340.1 L386.9,339.1 L387.0,338.1 L387.0,337.1 L387.1,336.1 L387.1,335.1 L387.2,334.2 L387.2,333.2 L387.3,332.2 L387.3,331.2 L387.4,330.2 L387.4,329.2 L387.4,328.2 L387.5,327.2 L387.5,326.2 L387.6,325.2 L387.6,324.2 L387.6,323.2 L387.7,322.2 L387.7,321.2 L387.7,320.2 L387.8,319.2 L387.8,318.2 L387.9,317.2 L387.9,316.2 L387.9,315.2 L388.0,314.2 L388.0,313.2 L388.0,312.2 L388.1,311.2 L388.1,310.2 L388.1,309.2 L388.1,308.2 L388.2,307.2 L388.2,306.2 L388.2,305.2 L388.3,304.2 L388.3,303.2 L388.3,302.2 L388.4,301.2 L388.4,300.2 L388.4,299.2 L388.5,298.2 L388.5,297.2 L388.5,296.2 L388.6,295.2 L388.6,294.2 L388.6,293.2 L388.7,292.2 L388.7,291.2 L388.7,290.2 L388.8,289.2 L388.8,288.2 L388.9,287.2 L388.9,286.2 L388.9,285.2 L389.0,284.2 L389.0,283.2 L389.1,282.2 L389.1,281.2 L389.2,280.2 L389.2,279.2 L389.3,278.2 L389.3,277.2 L389.4,276.2 L389.5,275.2 L389.5,274.2 L389.6,273.2 L389.7,272.2 L389.7,271.2 L389.8,270.2 L389.8,269.2 L389.9,268.2 L389.9,267.2 L390.0,266.2 L390.0,265.2 L390.0,264.2 L390.1,263.2 L390.1,262.2 L390.1,261.2 L390.2,260.2 L390.2,259.2 L390.2,258.2 L390.2,257.2 L390.3,256.2 L390.3,255.2 L390.3,254.2 L390.3,253.2 L390.4,252.2 L390.4,251.2 L390.4,250.2 L390.4,249.2 L390.5,248.2 L390.5,247.2 L390.5,246.2 L390.5,245.2 L390.6,244.2 L390.6,243.2 L390.6,242.2 L390.7,241.2 L390.7,240.2 L390.7,239.2 L390.8,238.2 L390.8,237.2 L390.8,236.2 L390.9,235.2 L390.9,234.2 L391.0,233.2 L391.0,232.2 L391.1,231.2 L391.1,230.2 L391.2,229.2 L391.3,228.2 L391.3,227.2 L391.4,226.2 L391.4,225.2 L391.5,224.2 L391.5,223.2 L391.6,222.2 L391.7,221.2 L391.7,220.3 L391.8,219.3 L391.9,218.3 L391.9,217.3 L392.0,216.3 L392.1,215.3 L392.1,214.3 L392.2,213.3 L392.3,212.3 L392.4,211.3 L392.5,210.3 L392.6,209.4 L392.7,208.4 L392.9,207.5 L393.0,206.5 L393.2,205.4 L393.7,205.5 L393.8,206.6 L394.0,207.7 L394.1,208.6 L394.2,209.5 L394.3,210.5 L394.4,211.4 L394.5,212.4 L394.6,213.4 L394.6,214.4 L394.7,215.4 L394.8,216.4 L394.9,217.4 L394.9,218.4 L395.0,219.4 L395.0,220.4 L395.1,221.4 L395.2,222.4 L395.2,223.4 L395.3,224.4 L395.3,225.4 L395.4,226.4 L395.4,227.4 L395.5,228.4 L395.5,229.4 L395.6,230.4 L395.7,231.4 L395.7,232.4 L395.8,233.4 L395.8,234.4 L395.8,235.4 L395.9,236.4 L395.9,237.4 L396.0,238.4 L396.0,239.4 L396.0,240.4 L396.1,241.4 L396.1,242.4 L396.1,243.4 L396.1,244.4 L396.2,245.4 L396.2,246.4 L396.2,247.4 L396.2,248.4 L396.3,249.4 L396.3,250.4 L396.3,251.4 L396.3,252.4 L396.4,253.4 L396.4,254.4 L396.4,255.4 L396.4,256.4 L396.4,257.4 L396.5,258.4 L396.5,259.4 L396.5,260.4 L396.5,261.4 L396.6,262.4 L396.6,263.4 L396.6,264.4 L396.7,265.4 L396.7,266.4 L396.7,267.4 L396.8,268.4 L396.8,269.4 L396.9,270.4 L396.9,271.4 L397.0,272.4 L397.1,273.4 L397.1,274.4 L397.2,275.4 L397.3,276.4 L397.4,277.4 L397.4,278.4 L397.5,279.4 L397.6,280.3 L397.6,281.3 L397.7,282.3 L397.7,283.3 L397.8,284.3 L397.8,285.3 L397.9,286.3 L397.9,287.3 L397.9,288.3 L398.0,289.3 L398.0,290.3 L398.0,291.3 L398.1,292.3 L398.1,293.3 L398.1,294.3 L398.2,295.3 L398.2,296.3 L398.2,297.3 L398.2,298.3 L398.3,299.3 L398.3,300.3 L398.3,301.3 L398.4,302.3 L398.4,303.3 L398.4,304.3 L398.4,305.3 L398.5,306.3 L398.5,307.3 L398.5,308.3 L398.6,309.3 L398.6,310.3 L398.6,311.3 L398.6,312.3 L398.7,313.3 L398.7,314.3 L398.7,315.3 L398.7,316.3 L398.8,317.3 L398.8,318.3 L398.8,319.3 L398.8,320.3 L398.8,321.3 L398.9,322.3 L398.9,323.3 L398.9,324.3 L398.9,325.3 L399.0,326.3 L399.0,327.3 L399.0,328.3 L399.0,329.3 L399.1,330.3 L399.1,331.3 L399.1,332.3 L399.1,333.3 L399.2,334.3 L399.2,335.3 L399.2,336.3 L399.3,337.3 L399.3,338.3 L399.3,339.3 L399.4,340.3 L399.4,341.3 L399.5,342.3 L399.5,343.3 L399.5,344.3 L399.6,345.3 L399.6,346.3 L399.7,347.3 L399.8,348.3 L399.8,349.3 L399.9,350.3 L399.9,351.3 L400.0,352.3 L400.1,353.3 L400.1,354.3 L400.2,355.3 L400.3,356.3 L400.3,357.3 L400.4,358.3 L400.5,359.3 L400.6,360.3 L400.7,361.3 L400.8,362.3 L400.9,363.3 L401.0,364.3 L401.1,365.3 L401.2,366.3 L401.3,367.2 L401.4,368.2 L401.5,369.2 L401.6,370.2 L401.8,371.2 L401.9,372.2 L402.0,373.2 L402.2,374.2 L402.3,375.2 L402.4,376.2 L402.6,377.2 L402.7,378.1 L402.9,379.1 L403.1,380.1 L403.2,381.1 L403.4,382.1 L403.6,383.1 L403.7,384.1 L403.9,385.0 L404.1,386.0 L404.3,387.0 L404.5,388.0 L404.7,389.0 L404.9,390.0 L405.1,390.9 L405.3,391.9 L405.5,392.9 L405.7,393.9 L406.0,394.8 L406.3,395.8 L406.6,396.7 L407.0,397.6 L407.4,398.5 L407.9,399.4 L408.4,400.2 L409.0,401.0 L409.6,401.8 L410.3,402.6 L410.9,403.3 L411.7,404.0 L412.4,404.6 L413.2,405.3 L414.0,405.8 L414.8,406.4 L415.7,406.9 L416.5,407.3 L417.4,407.8 L418.4,408.2 L419.3,408.6 L420.2,408.9 L421.2,409.3 L422.1,409.6 L423.0,409.9 L424.0,410.2 L425.0,410.4 L425.9,410.7 L426.9,410.9 L427.9,411.1 L428.9,411.2 L429.9,411.3 L430.9,411.5 L431.9,411.6 L432.9,411.7 L433.8,411.7 L434.8,411.8 L435.8,411.8 L436.8,411.9 L437.8,411.9 L438.8,411.9 L439.8,411.9 L440.8,412.0 L441.8,412.0 L442.8,412.0 L443.8,412.0 L444.8,412.0 L445.8,412.0 L446.8,412.0 L447.8,412.0 L448.8,412.1 L449.8,412.1 L450.8,412.1 L451.8,412.1 L452.8,412.1 L453.8,412.1 L454.8,412.1 L455.8,412.1 L456.8,412.1 L457.8,412.1 L458.8,412.1" fill="none" stroke="#98040c" stroke-width="1.55" stroke-dasharray="3.7 1.27" stroke-dashoffset="1.56" stroke-linejoin="round"/>
</g>
<rect x="44.3" y="44.1" width="49.4" height="22.1" fill="#fff" stroke="#000" stroke-width="1"/>
<text x="49.1" y="61.5" class="t" textLength="36.8" lengthAdjust="spacingAndGlyphs">TDSE</text>
<rect x="44.3" y="235.8" width="49.4" height="21.6" fill="#fff" stroke="#000" stroke-width="1"/>
<text x="54.2" y="252.7" class="t" textLength="25.3" lengthAdjust="spacingAndGlyphs">MD</text>
<text x="234.4" y="60.8" class="t" textLength="18.5" lengthAdjust="spacingAndGlyphs">pci</text>
<text x="217.6" y="75.3" class="t" textLength="35.3" lengthAdjust="spacingAndGlyphs">nopci</text>
<path d="M262,56.5 H285.9" stroke="#20208c" stroke-width="1.8" fill="none"/>
<path d="M262,71.2 H285.9" stroke="#98040c" stroke-width="1.55" stroke-dasharray="3.7 1.27" fill="none"/>
<text x="234.4" y="252.2" class="t" textLength="18.5" lengthAdjust="spacingAndGlyphs">pci</text>
<text x="217.6" y="266.7" class="t" textLength="35.3" lengthAdjust="spacingAndGlyphs">nopci</text>
<path d="M262,247.9 H285.9" stroke="#20208c" stroke-width="1.8" fill="none"/>
<path d="M262,262.6 H285.9" stroke="#98040c" stroke-width="1.55" stroke-dasharray="3.7 1.27" fill="none"/>
<text x="192.3" y="458.1" class="t" textLength="119.6" lengthAdjust="spacingAndGlyphs">Auger energy [eV]</text>
<text transform="translate(12.0,334.6) rotate(-90)" class="t" textLength="168.7" lengthAdjust="spacingAndGlyphs">Electron count [arb. units]</text>
<text x="47.8" y="35.6" class="i" textLength="9.4" lengthAdjust="spacingAndGlyphs">A</text>
<text x="58.6" y="38.9" class="is">P</text>
<text x="70.2" y="35.6" class="t" textLength="12" lengthAdjust="spacingAndGlyphs">&lt;</text>
<text x="84.6" y="35.6" class="t">0</text>
<text x="91.3" y="35.6" class="t">;</text>
<text x="101.7" y="35.6" class="i">t</text>
<text x="106.4" y="38.9" class="is">X</text>
<text x="120.0" y="35.6" class="t" textLength="11.2" lengthAdjust="spacingAndGlyphs">=</text>
<text x="136.0" y="35.6" class="t" textLength="10" lengthAdjust="spacingAndGlyphs">−</text>
<text x="146.9" y="35.6" class="t" textLength="25.5" lengthAdjust="spacingAndGlyphs">60fs</text>
<circle cx="54.3" cy="24.2" r="0.9" fill="#000"/>
<text x="196.5" y="35.6" class="i" textLength="9.4" lengthAdjust="spacingAndGlyphs">A</text>
<text x="207.0" y="38.9" class="is">P</text>
<text x="217.6" y="35.6" class="t" textLength="12" lengthAdjust="spacingAndGlyphs">&gt;</text>
<text x="232.1" y="35.6" class="t">0</text>
<text x="238.9" y="35.6" class="t">;</text>
<text x="249.9" y="35.6" class="i">t</text>
<text x="254.8" y="38.9" class="is">X</text>
<text x="269.2" y="35.6" class="t" textLength="11.2" lengthAdjust="spacingAndGlyphs">=</text>
<text x="283" y="35.6" class="t" textLength="26.3" lengthAdjust="spacingAndGlyphs">44fs</text>
<circle cx="203.0" cy="24.2" r="0.9" fill="#000"/>
<text x="335.5" y="35.6" class="i" textLength="9.4" lengthAdjust="spacingAndGlyphs">A</text>
<text x="346.0" y="38.9" class="is">P</text>
<text x="357.5" y="35.6" class="t" textLength="11.2" lengthAdjust="spacingAndGlyphs">=</text>
<text x="371.7" y="35.6" class="t">0</text>
<text x="378.5" y="35.6" class="t">;</text>
<text x="389.5" y="35.6" class="i">t</text>
<text x="394.2" y="38.9" class="is">X</text>
<text x="408.8" y="35.6" class="t" textLength="11.2" lengthAdjust="spacingAndGlyphs">=</text>
<text x="423" y="35.6" class="t" textLength="18" lengthAdjust="spacingAndGlyphs">0fs</text>
<circle cx="342.0" cy="24.2" r="0.9" fill="#000"/>
</svg>
</body></html>
